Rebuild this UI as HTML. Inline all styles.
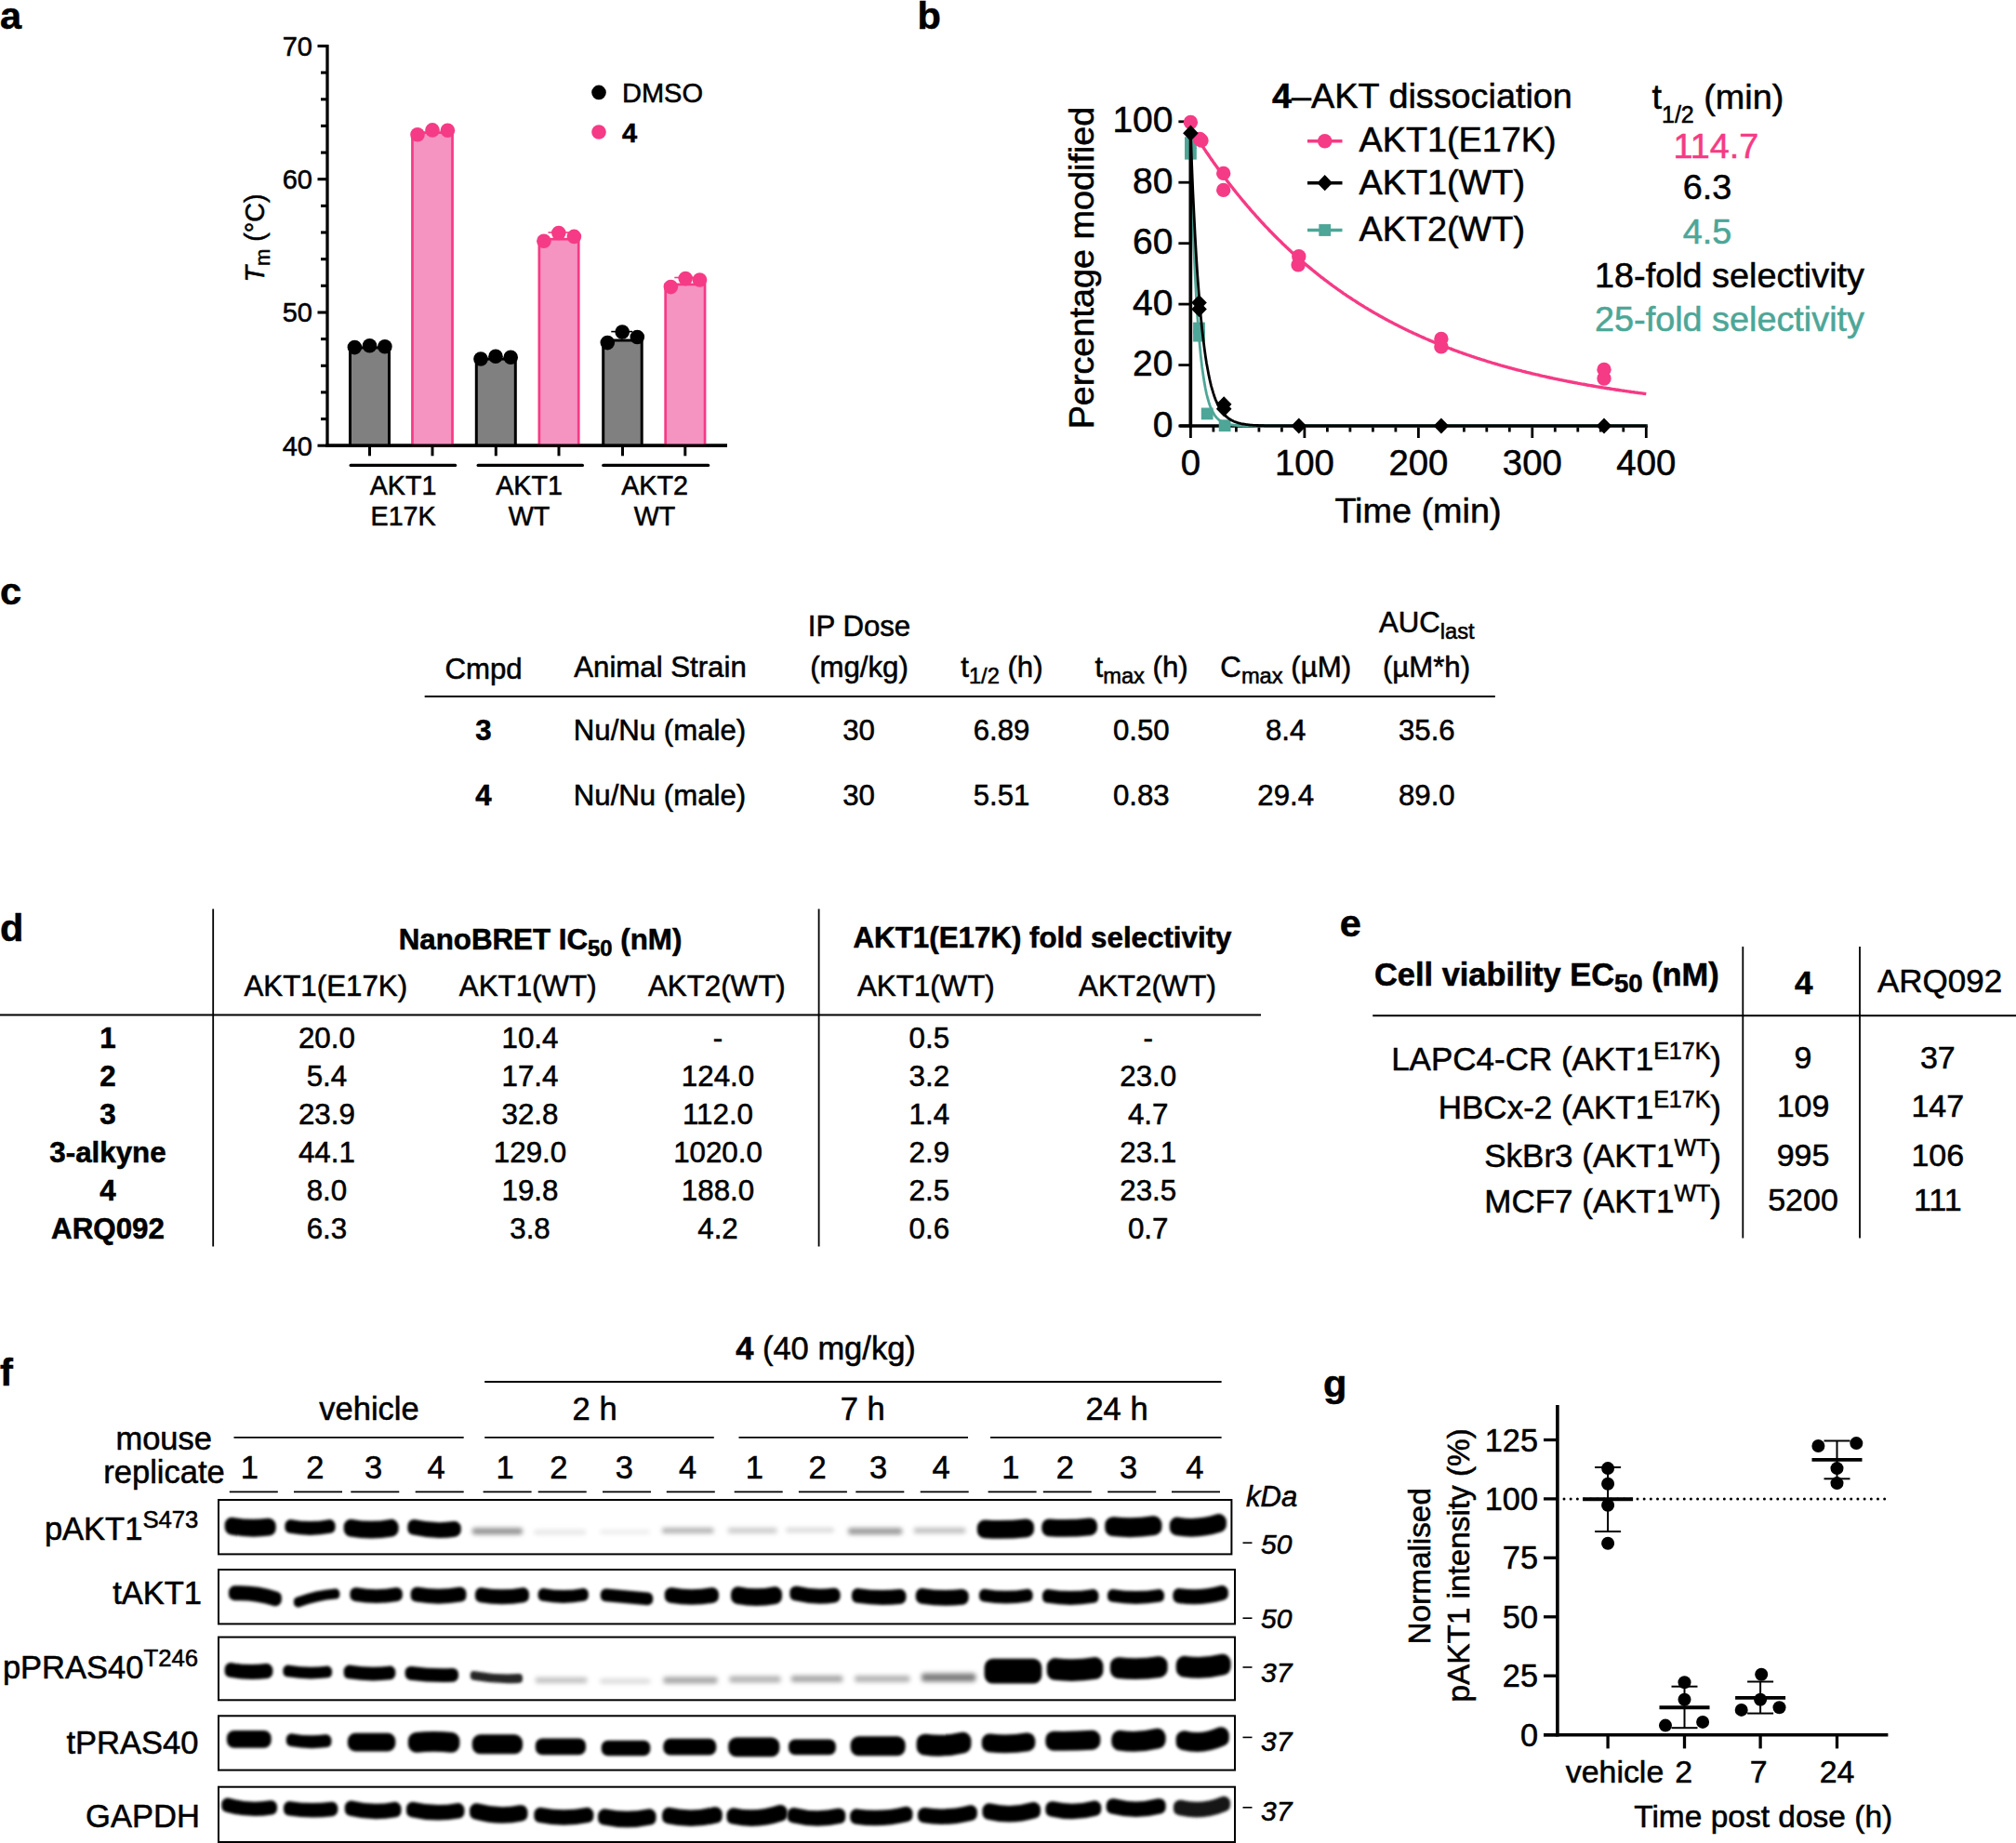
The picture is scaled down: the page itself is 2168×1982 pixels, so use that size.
<!DOCTYPE html>
<html><head><meta charset="utf-8"><title>Figure</title>
<style>html,body{margin:0;padding:0;background:#fff}svg{display:block}text{font-family:"Liberation Sans",sans-serif}</style>
</head><body>
<svg width="2168" height="1982" viewBox="0 0 2168 1982">
<rect width="2168" height="1982" fill="#fff"/>
<text x="0.0" y="31.0" font-size="41.5" text-anchor="start" font-weight="bold" font-style="normal" fill="#000"  stroke="#000" stroke-width="0.55">a</text>
<text x="986.5" y="31.0" font-size="41.5" text-anchor="start" font-weight="bold" font-style="normal" fill="#000"  stroke="#000" stroke-width="0.55">b</text>
<text x="0.0" y="650.0" font-size="41.5" text-anchor="start" font-weight="bold" font-style="normal" fill="#000"  stroke="#000" stroke-width="0.55">c</text>
<text x="0.0" y="1012.0" font-size="41.5" text-anchor="start" font-weight="bold" font-style="normal" fill="#000"  stroke="#000" stroke-width="0.55">d</text>
<text x="1440.8" y="1006.5" font-size="41.5" text-anchor="start" font-weight="bold" font-style="normal" fill="#000"  stroke="#000" stroke-width="0.55">e</text>
<text x="0.0" y="1490.0" font-size="41.5" text-anchor="start" font-weight="bold" font-style="normal" fill="#000"  stroke="#000" stroke-width="0.55">f</text>
<text x="1423.0" y="1501.5" font-size="41.5" text-anchor="start" font-weight="bold" font-style="normal" fill="#000"  stroke="#000" stroke-width="0.55">g</text>
<line x1="352.0" y1="48.0" x2="352.0" y2="480.8" stroke="#000" stroke-width="3.3" stroke-linecap="butt" />
<line x1="350.4" y1="479.2" x2="782.0" y2="479.2" stroke="#000" stroke-width="3.3" stroke-linecap="butt" />
<line x1="341.5" y1="479.2" x2="352.0" y2="479.2" stroke="#000" stroke-width="3.1" stroke-linecap="butt" />
<line x1="345.0" y1="450.6" x2="352.0" y2="450.6" stroke="#000" stroke-width="3.1" stroke-linecap="butt" />
<line x1="345.0" y1="421.9" x2="352.0" y2="421.9" stroke="#000" stroke-width="3.1" stroke-linecap="butt" />
<line x1="345.0" y1="393.3" x2="352.0" y2="393.3" stroke="#000" stroke-width="3.1" stroke-linecap="butt" />
<line x1="345.0" y1="364.6" x2="352.0" y2="364.6" stroke="#000" stroke-width="3.1" stroke-linecap="butt" />
<line x1="341.5" y1="336.0" x2="352.0" y2="336.0" stroke="#000" stroke-width="3.1" stroke-linecap="butt" />
<line x1="345.0" y1="307.3" x2="352.0" y2="307.3" stroke="#000" stroke-width="3.1" stroke-linecap="butt" />
<line x1="345.0" y1="278.7" x2="352.0" y2="278.7" stroke="#000" stroke-width="3.1" stroke-linecap="butt" />
<line x1="345.0" y1="250.0" x2="352.0" y2="250.0" stroke="#000" stroke-width="3.1" stroke-linecap="butt" />
<line x1="345.0" y1="221.4" x2="352.0" y2="221.4" stroke="#000" stroke-width="3.1" stroke-linecap="butt" />
<line x1="341.5" y1="192.7" x2="352.0" y2="192.7" stroke="#000" stroke-width="3.1" stroke-linecap="butt" />
<line x1="345.0" y1="164.1" x2="352.0" y2="164.1" stroke="#000" stroke-width="3.1" stroke-linecap="butt" />
<line x1="345.0" y1="135.4" x2="352.0" y2="135.4" stroke="#000" stroke-width="3.1" stroke-linecap="butt" />
<line x1="345.0" y1="106.8" x2="352.0" y2="106.8" stroke="#000" stroke-width="3.1" stroke-linecap="butt" />
<line x1="345.0" y1="78.1" x2="352.0" y2="78.1" stroke="#000" stroke-width="3.1" stroke-linecap="butt" />
<line x1="341.5" y1="49.5" x2="352.0" y2="49.5" stroke="#000" stroke-width="3.1" stroke-linecap="butt" />
<text x="336.0" y="489.5" font-size="29" text-anchor="end" font-weight="normal" font-style="normal" fill="#000"  stroke="#000" stroke-width="0.55">40</text>
<text x="336.0" y="346.3" font-size="29" text-anchor="end" font-weight="normal" font-style="normal" fill="#000"  stroke="#000" stroke-width="0.55">50</text>
<text x="336.0" y="203.0" font-size="29" text-anchor="end" font-weight="normal" font-style="normal" fill="#000"  stroke="#000" stroke-width="0.55">60</text>
<text x="336.0" y="59.8" font-size="29" text-anchor="end" font-weight="normal" font-style="normal" fill="#000"  stroke="#000" stroke-width="0.55">70</text>
<rect x="376.50" y="373.9" width="42.00" height="105.3" fill="#808080" stroke="#000" stroke-width="3"/>
<line x1="397.5" y1="479.2" x2="397.5" y2="490.3" stroke="#000" stroke-width="3" stroke-linecap="butt" />
<rect x="443.45" y="142.6" width="43.10" height="336.6" fill="#F593C1" stroke="#F53B85" stroke-width="2.7"/>
<line x1="465.0" y1="479.2" x2="465.0" y2="490.3" stroke="#000" stroke-width="3" stroke-linecap="butt" />
<rect x="512.30" y="386.1" width="42.00" height="93.1" fill="#808080" stroke="#000" stroke-width="3"/>
<line x1="533.3" y1="479.2" x2="533.3" y2="490.3" stroke="#000" stroke-width="3" stroke-linecap="butt" />
<rect x="579.85" y="257.2" width="42.40" height="222.0" fill="#F593C1" stroke="#F53B85" stroke-width="2.7"/>
<line x1="601.0" y1="479.2" x2="601.0" y2="490.3" stroke="#000" stroke-width="3" stroke-linecap="butt" />
<rect x="648.70" y="366.0" width="41.50" height="113.2" fill="#808080" stroke="#000" stroke-width="3"/>
<line x1="669.5" y1="479.2" x2="669.5" y2="490.3" stroke="#000" stroke-width="3" stroke-linecap="butt" />
<rect x="715.65" y="305.9" width="42.40" height="173.3" fill="#F593C1" stroke="#F53B85" stroke-width="2.7"/>
<line x1="736.8" y1="479.2" x2="736.8" y2="490.3" stroke="#000" stroke-width="3" stroke-linecap="butt" />
<line x1="589.5" y1="250.0" x2="612.0" y2="250.0" stroke="#F53B85" stroke-width="1.6" stroke-linecap="butt" />
<line x1="600.8" y1="250.0" x2="600.8" y2="258.0" stroke="#F53B85" stroke-width="1.6" stroke-linecap="butt" />
<line x1="725.3" y1="298.5" x2="748.0" y2="298.5" stroke="#F53B85" stroke-width="1.6" stroke-linecap="butt" />
<line x1="736.6" y1="298.5" x2="736.6" y2="306.5" stroke="#F53B85" stroke-width="1.6" stroke-linecap="butt" />
<line x1="657.3" y1="356.6" x2="680.0" y2="356.6" stroke="#000" stroke-width="1.6" stroke-linecap="butt" />
<line x1="668.6" y1="356.6" x2="668.6" y2="364.6" stroke="#000" stroke-width="1.6" stroke-linecap="butt" />
<circle cx="381.4" cy="373.6" r="7.8" fill="#000"/>
<circle cx="397.5" cy="371.7" r="7.8" fill="#000"/>
<circle cx="413.9" cy="372.8" r="7.8" fill="#000"/>
<circle cx="449.0" cy="144.8" r="7.8" fill="#F53B85"/>
<circle cx="465.0" cy="139.9" r="7.8" fill="#F53B85"/>
<circle cx="481.4" cy="140.3" r="7.8" fill="#F53B85"/>
<circle cx="517.0" cy="386.0" r="7.8" fill="#000"/>
<circle cx="533.0" cy="383.3" r="7.8" fill="#000"/>
<circle cx="549.2" cy="384.2" r="7.8" fill="#000"/>
<circle cx="584.9" cy="259.3" r="7.8" fill="#F53B85"/>
<circle cx="600.8" cy="250.5" r="7.8" fill="#F53B85"/>
<circle cx="617.4" cy="254.4" r="7.8" fill="#F53B85"/>
<circle cx="653.3" cy="368.6" r="7.8" fill="#000"/>
<circle cx="669.2" cy="357.0" r="7.8" fill="#000"/>
<circle cx="685.3" cy="362.5" r="7.8" fill="#000"/>
<circle cx="721.4" cy="308.6" r="7.8" fill="#F53B85"/>
<circle cx="737.2" cy="299.6" r="7.8" fill="#F53B85"/>
<circle cx="752.5" cy="301.0" r="7.8" fill="#F53B85"/>
<line x1="350.4" y1="479.2" x2="782.0" y2="479.2" stroke="#000" stroke-width="3.3" stroke-linecap="butt" />
<line x1="377.2" y1="500.4" x2="489.6" y2="500.4" stroke="#000" stroke-width="3.3" stroke-linecap="round" />
<line x1="514.2" y1="500.4" x2="626.4" y2="500.4" stroke="#000" stroke-width="3.3" stroke-linecap="round" />
<line x1="648.8" y1="500.4" x2="761.6" y2="500.4" stroke="#000" stroke-width="3.3" stroke-linecap="round" />
<text x="433.6" y="532.0" font-size="28.7" text-anchor="middle" font-weight="normal" font-style="normal" fill="#000"  stroke="#000" stroke-width="0.55">AKT1</text>
<text x="433.6" y="565.3" font-size="28.7" text-anchor="middle" font-weight="normal" font-style="normal" fill="#000"  stroke="#000" stroke-width="0.55">E17K</text>
<text x="569.0" y="532.0" font-size="28.7" text-anchor="middle" font-weight="normal" font-style="normal" fill="#000"  stroke="#000" stroke-width="0.55">AKT1</text>
<text x="569.0" y="565.3" font-size="28.7" text-anchor="middle" font-weight="normal" font-style="normal" fill="#000"  stroke="#000" stroke-width="0.55">WT</text>
<text x="704.0" y="532.0" font-size="28.7" text-anchor="middle" font-weight="normal" font-style="normal" fill="#000"  stroke="#000" stroke-width="0.55">AKT2</text>
<text x="704.0" y="565.3" font-size="28.7" text-anchor="middle" font-weight="normal" font-style="normal" fill="#000"  stroke="#000" stroke-width="0.55">WT</text>
<text transform="translate(284,256) rotate(-90)" font-size="28.7" text-anchor="middle" stroke="#000" stroke-width="0.55"><tspan font-style="italic">T</tspan><tspan font-size="22" dy="6">m</tspan><tspan dy="-6"> (°C)</tspan></text>
<circle cx="644.0" cy="99.4" r="7.8" fill="#000"/>
<text x="669.0" y="109.5" font-size="29" text-anchor="start" font-weight="normal" font-style="normal" fill="#000"  stroke="#000" stroke-width="0.55">DMSO</text>
<circle cx="644.0" cy="142.0" r="7.8" fill="#F53B85"/>
<text x="669.0" y="152.5" font-size="29" text-anchor="start" font-weight="bold" font-style="normal" fill="#000"  stroke="#000" stroke-width="0.55">4</text>
<line x1="1280.4" y1="129.4" x2="1280.4" y2="459.5" stroke="#000" stroke-width="3.4" stroke-linecap="butt" />
<line x1="1268.4" y1="458.0" x2="1771.8" y2="458.0" stroke="#000" stroke-width="3.4" stroke-linecap="butt" />
<line x1="1267.4" y1="458.0" x2="1280.4" y2="458.0" stroke="#000" stroke-width="2.8" stroke-linecap="butt" />
<text x="1261.5" y="469.5" font-size="39" text-anchor="end" font-weight="normal" font-style="normal" fill="#000"  stroke="#000" stroke-width="0.55">0</text>
<line x1="1267.4" y1="392.6" x2="1280.4" y2="392.6" stroke="#000" stroke-width="2.8" stroke-linecap="butt" />
<text x="1261.5" y="404.1" font-size="39" text-anchor="end" font-weight="normal" font-style="normal" fill="#000"  stroke="#000" stroke-width="0.55">20</text>
<line x1="1267.4" y1="327.1" x2="1280.4" y2="327.1" stroke="#000" stroke-width="2.8" stroke-linecap="butt" />
<text x="1261.5" y="338.6" font-size="39" text-anchor="end" font-weight="normal" font-style="normal" fill="#000"  stroke="#000" stroke-width="0.55">40</text>
<line x1="1267.4" y1="261.7" x2="1280.4" y2="261.7" stroke="#000" stroke-width="2.8" stroke-linecap="butt" />
<text x="1261.5" y="273.2" font-size="39" text-anchor="end" font-weight="normal" font-style="normal" fill="#000"  stroke="#000" stroke-width="0.55">60</text>
<line x1="1267.4" y1="196.2" x2="1280.4" y2="196.2" stroke="#000" stroke-width="2.8" stroke-linecap="butt" />
<text x="1261.5" y="207.7" font-size="39" text-anchor="end" font-weight="normal" font-style="normal" fill="#000"  stroke="#000" stroke-width="0.55">80</text>
<line x1="1267.4" y1="130.8" x2="1280.4" y2="130.8" stroke="#000" stroke-width="2.8" stroke-linecap="butt" />
<text x="1261.5" y="142.3" font-size="39" text-anchor="end" font-weight="normal" font-style="normal" fill="#000"  stroke="#000" stroke-width="0.55">100</text>
<line x1="1280.4" y1="458.0" x2="1280.4" y2="471.0" stroke="#000" stroke-width="2.8" stroke-linecap="butt" />
<line x1="1304.9" y1="458.0" x2="1304.9" y2="464.5" stroke="#000" stroke-width="2.8" stroke-linecap="butt" />
<line x1="1329.4" y1="458.0" x2="1329.4" y2="464.5" stroke="#000" stroke-width="2.8" stroke-linecap="butt" />
<line x1="1353.9" y1="458.0" x2="1353.9" y2="464.5" stroke="#000" stroke-width="2.8" stroke-linecap="butt" />
<line x1="1378.4" y1="458.0" x2="1378.4" y2="464.5" stroke="#000" stroke-width="2.8" stroke-linecap="butt" />
<line x1="1402.9" y1="458.0" x2="1402.9" y2="471.0" stroke="#000" stroke-width="2.8" stroke-linecap="butt" />
<line x1="1427.4" y1="458.0" x2="1427.4" y2="464.5" stroke="#000" stroke-width="2.8" stroke-linecap="butt" />
<line x1="1451.9" y1="458.0" x2="1451.9" y2="464.5" stroke="#000" stroke-width="2.8" stroke-linecap="butt" />
<line x1="1476.4" y1="458.0" x2="1476.4" y2="464.5" stroke="#000" stroke-width="2.8" stroke-linecap="butt" />
<line x1="1500.9" y1="458.0" x2="1500.9" y2="464.5" stroke="#000" stroke-width="2.8" stroke-linecap="butt" />
<line x1="1525.4" y1="458.0" x2="1525.4" y2="471.0" stroke="#000" stroke-width="2.8" stroke-linecap="butt" />
<line x1="1549.9" y1="458.0" x2="1549.9" y2="464.5" stroke="#000" stroke-width="2.8" stroke-linecap="butt" />
<line x1="1574.4" y1="458.0" x2="1574.4" y2="464.5" stroke="#000" stroke-width="2.8" stroke-linecap="butt" />
<line x1="1598.8" y1="458.0" x2="1598.8" y2="464.5" stroke="#000" stroke-width="2.8" stroke-linecap="butt" />
<line x1="1623.3" y1="458.0" x2="1623.3" y2="464.5" stroke="#000" stroke-width="2.8" stroke-linecap="butt" />
<line x1="1647.8" y1="458.0" x2="1647.8" y2="471.0" stroke="#000" stroke-width="2.8" stroke-linecap="butt" />
<line x1="1672.3" y1="458.0" x2="1672.3" y2="464.5" stroke="#000" stroke-width="2.8" stroke-linecap="butt" />
<line x1="1696.8" y1="458.0" x2="1696.8" y2="464.5" stroke="#000" stroke-width="2.8" stroke-linecap="butt" />
<line x1="1721.3" y1="458.0" x2="1721.3" y2="464.5" stroke="#000" stroke-width="2.8" stroke-linecap="butt" />
<line x1="1745.8" y1="458.0" x2="1745.8" y2="464.5" stroke="#000" stroke-width="2.8" stroke-linecap="butt" />
<line x1="1770.3" y1="458.0" x2="1770.3" y2="471.0" stroke="#000" stroke-width="2.8" stroke-linecap="butt" />
<text x="1280.4" y="510.5" font-size="38.3" text-anchor="middle" font-weight="normal" font-style="normal" fill="#000"  stroke="#000" stroke-width="0.55">0</text>
<text x="1402.9" y="510.5" font-size="38.3" text-anchor="middle" font-weight="normal" font-style="normal" fill="#000"  stroke="#000" stroke-width="0.55">100</text>
<text x="1525.4" y="510.5" font-size="38.3" text-anchor="middle" font-weight="normal" font-style="normal" fill="#000"  stroke="#000" stroke-width="0.55">200</text>
<text x="1647.8" y="510.5" font-size="38.3" text-anchor="middle" font-weight="normal" font-style="normal" fill="#000"  stroke="#000" stroke-width="0.55">300</text>
<text x="1770.3" y="510.5" font-size="38.3" text-anchor="middle" font-weight="normal" font-style="normal" fill="#000"  stroke="#000" stroke-width="0.55">400</text>
<text x="1525.0" y="562.0" font-size="37.8" text-anchor="middle" font-weight="normal" font-style="normal" fill="#000"  stroke="#000" stroke-width="0.55">Time (min)</text>
<text transform="translate(1176,288) rotate(-90)" font-size="37.8" text-anchor="middle" stroke="#000" stroke-width="0.55">Percentage modified</text>
<polyline points="1280.4,160.2 1281.6,202.8 1282.8,239.2 1284.1,270.4 1285.3,297.2 1286.5,320.2 1287.7,339.8 1289.0,356.7 1290.2,371.2 1291.4,383.6 1292.6,394.2 1293.9,403.3 1295.1,411.1 1296.3,417.8 1297.5,423.5 1298.8,428.5 1300.0,432.7 1301.2,436.3 1302.4,439.4 1303.7,442.0 1304.9,444.3 1306.1,446.3 1307.3,448.0 1308.6,449.4 1309.8,450.6 1311.0,451.7 1312.2,452.6 1313.5,453.3 1314.7,454.0 1315.9,454.6 1317.1,455.1 1318.4,455.5 1319.6,455.8 1320.8,456.2 1322.0,456.4 1323.3,456.6 1324.5,456.8 1325.7,457.0 1326.9,457.1 1328.2,457.3 1329.4,457.4 1330.6,457.5 1331.8,457.5 1333.1,457.6 1334.3,457.7 1335.5,457.7 1336.7,457.8 1338.0,457.8 1339.2,457.8 1340.4,457.8 1341.6,457.9 1342.9,457.9 1344.1,457.9 1345.3,457.9 1346.5,457.9 1347.8,457.9 1349.0,457.9 1350.2,458.0 1351.4,458.0 1352.7,458.0 1353.9,458.0 1355.1,458.0 1356.3,458.0 1357.6,458.0 1358.8,458.0 1360.0,458.0 1361.2,458.0 1362.5,458.0 1363.7,458.0 1364.9,458.0 1366.1,458.0 1367.4,458.0 1368.6,458.0 1369.8,458.0 1371.0,458.0 1372.3,458.0 1373.5,458.0 1374.7,458.0 1375.9,458.0 1377.2,458.0 1378.4,458.0 1379.6,458.0 1380.8,458.0 1382.1,458.0 1383.3,458.0 1384.5,458.0 1385.7,458.0 1387.0,458.0 1388.2,458.0 1389.4,458.0 1390.6,458.0 1391.9,458.0 1393.1,458.0 1394.3,458.0 1395.5,458.0 1396.8,458.0 1398.0,458.0 1399.2,458.0 1400.4,458.0 1401.7,458.0 1402.9,458.0 1404.1,458.0 1405.3,458.0 1406.6,458.0 1407.8,458.0 1409.0,458.0 1410.2,458.0 1411.5,458.0 1412.7,458.0 1413.9,458.0 1415.1,458.0 1416.4,458.0 1417.6,458.0 1418.8,458.0 1420.0,458.0 1421.3,458.0 1422.5,458.0 1423.7,458.0 1424.9,458.0 1426.2,458.0 1427.4,458.0 1428.6,458.0 1429.8,458.0 1431.1,458.0 1432.3,458.0 1433.5,458.0 1434.7,458.0 1435.9,458.0 1437.2,458.0 1438.4,458.0 1439.6,458.0 1440.8,458.0 1442.1,458.0 1443.3,458.0 1444.5,458.0 1445.7,458.0 1447.0,458.0 1448.2,458.0 1449.4,458.0 1450.6,458.0 1451.9,458.0 1453.1,458.0 1454.3,458.0 1455.5,458.0 1456.8,458.0 1458.0,458.0 1459.2,458.0 1460.4,458.0 1461.7,458.0 1462.9,458.0 1464.1,458.0 1465.3,458.0 1466.6,458.0 1467.8,458.0 1469.0,458.0 1470.2,458.0 1471.5,458.0 1472.7,458.0 1473.9,458.0 1475.1,458.0 1476.4,458.0 1477.6,458.0 1478.8,458.0 1480.0,458.0 1481.3,458.0 1482.5,458.0 1483.7,458.0 1484.9,458.0 1486.2,458.0 1487.4,458.0 1488.6,458.0 1489.8,458.0 1491.1,458.0 1492.3,458.0 1493.5,458.0 1494.7,458.0 1496.0,458.0 1497.2,458.0 1498.4,458.0 1499.6,458.0 1500.9,458.0 1502.1,458.0 1503.3,458.0 1504.5,458.0 1505.8,458.0 1507.0,458.0 1508.2,458.0 1509.4,458.0 1510.7,458.0 1511.9,458.0 1513.1,458.0 1514.3,458.0 1515.6,458.0 1516.8,458.0 1518.0,458.0 1519.2,458.0 1520.5,458.0 1521.7,458.0 1522.9,458.0 1524.1,458.0 1525.4,458.0 1526.6,458.0 1527.8,458.0 1529.0,458.0 1530.3,458.0 1531.5,458.0 1532.7,458.0 1533.9,458.0 1535.2,458.0 1536.4,458.0 1537.6,458.0 1538.8,458.0 1540.1,458.0 1541.3,458.0 1542.5,458.0 1543.7,458.0 1545.0,458.0 1546.2,458.0 1547.4,458.0 1548.6,458.0 1549.9,458.0 1551.1,458.0 1552.3,458.0 1553.5,458.0 1554.8,458.0 1556.0,458.0 1557.2,458.0 1558.4,458.0 1559.7,458.0 1560.9,458.0 1562.1,458.0 1563.3,458.0 1564.6,458.0 1565.8,458.0 1567.0,458.0 1568.2,458.0 1569.5,458.0 1570.7,458.0 1571.9,458.0 1573.1,458.0 1574.4,458.0 1575.6,458.0 1576.8,458.0 1578.0,458.0 1579.3,458.0 1580.5,458.0 1581.7,458.0 1582.9,458.0 1584.2,458.0 1585.4,458.0 1586.6,458.0 1587.8,458.0 1589.0,458.0 1590.3,458.0 1591.5,458.0 1592.7,458.0 1593.9,458.0 1595.2,458.0 1596.4,458.0 1597.6,458.0 1598.8,458.0 1600.1,458.0 1601.3,458.0 1602.5,458.0 1603.7,458.0 1605.0,458.0 1606.2,458.0 1607.4,458.0 1608.6,458.0 1609.9,458.0 1611.1,458.0 1612.3,458.0 1613.5,458.0 1614.8,458.0 1616.0,458.0 1617.2,458.0 1618.4,458.0 1619.7,458.0 1620.9,458.0 1622.1,458.0 1623.3,458.0 1624.6,458.0 1625.8,458.0 1627.0,458.0 1628.2,458.0 1629.5,458.0 1630.7,458.0 1631.9,458.0 1633.1,458.0 1634.4,458.0 1635.6,458.0 1636.8,458.0 1638.0,458.0 1639.3,458.0 1640.5,458.0 1641.7,458.0 1642.9,458.0 1644.2,458.0 1645.4,458.0 1646.6,458.0 1647.8,458.0 1649.1,458.0 1650.3,458.0 1651.5,458.0 1652.7,458.0 1654.0,458.0 1655.2,458.0 1656.4,458.0 1657.6,458.0 1658.9,458.0 1660.1,458.0 1661.3,458.0 1662.5,458.0 1663.8,458.0 1665.0,458.0 1666.2,458.0 1667.4,458.0 1668.7,458.0 1669.9,458.0 1671.1,458.0 1672.3,458.0 1673.6,458.0 1674.8,458.0 1676.0,458.0 1677.2,458.0 1678.5,458.0 1679.7,458.0 1680.9,458.0 1682.1,458.0 1683.4,458.0 1684.6,458.0 1685.8,458.0 1687.0,458.0 1688.3,458.0 1689.5,458.0 1690.7,458.0 1691.9,458.0 1693.2,458.0 1694.4,458.0 1695.6,458.0 1696.8,458.0 1698.1,458.0 1699.3,458.0 1700.5,458.0 1701.7,458.0 1703.0,458.0 1704.2,458.0 1705.4,458.0 1706.6,458.0 1707.9,458.0 1709.1,458.0 1710.3,458.0 1711.5,458.0 1712.8,458.0 1714.0,458.0 1715.2,458.0 1716.4,458.0 1717.7,458.0 1718.9,458.0 1720.1,458.0 1721.3,458.0 1722.6,458.0 1723.8,458.0 1725.0,458.0 1726.2,458.0 1727.5,458.0 1728.7,458.0 1729.9,458.0 1731.1,458.0 1732.4,458.0 1733.6,458.0 1734.8,458.0 1736.0,458.0 1737.3,458.0 1738.5,458.0 1739.7,458.0 1740.9,458.0 1742.1,458.0 1743.4,458.0 1744.6,458.0 1745.8,458.0 1747.0,458.0 1748.3,458.0 1749.5,458.0 1750.7,458.0 1751.9,458.0 1753.2,458.0 1754.4,458.0 1755.6,458.0 1756.8,458.0 1758.1,458.0 1759.3,458.0 1760.5,458.0 1761.7,458.0 1763.0,458.0 1764.2,458.0 1765.4,458.0 1766.6,458.0 1767.9,458.0 1769.1,458.0 1770.3,458.0" fill="none" stroke="#4DA697" stroke-width="2.8" stroke-linejoin="round"/>
<rect x="1274.0" y="147.3" width="12.8" height="12.8" fill="#4DA697"/>
<rect x="1274.0" y="158.8" width="12.8" height="12.8" fill="#4DA697"/>
<rect x="1283.1" y="346.6" width="12.8" height="12.8" fill="#4DA697"/>
<rect x="1283.1" y="354.7" width="12.8" height="12.8" fill="#4DA697"/>
<rect x="1291.8" y="438.5" width="12.8" height="12.8" fill="#4DA697"/>
<rect x="1310.7" y="451.3" width="12.8" height="12.8" fill="#4DA697"/>
<line x1="1280.4" y1="129.4" x2="1280.4" y2="459.5" stroke="#000" stroke-width="3.4" stroke-linecap="butt" />
<polyline points="1280.4,143.2 1281.6,176.0 1282.8,205.4 1284.1,231.7 1285.3,255.3 1286.5,276.4 1287.7,295.3 1289.0,312.3 1290.2,327.5 1291.4,341.1 1292.6,353.2 1293.9,364.2 1295.1,373.9 1296.3,382.7 1297.5,390.5 1298.8,397.6 1300.0,403.9 1301.2,409.5 1302.4,414.6 1303.7,419.1 1304.9,423.1 1306.1,426.8 1307.3,430.0 1308.6,432.9 1309.8,435.6 1311.0,437.9 1312.2,440.0 1313.5,441.9 1314.7,443.5 1315.9,445.0 1317.1,446.4 1318.4,447.6 1319.6,448.7 1320.8,449.7 1322.0,450.5 1323.3,451.3 1324.5,452.0 1325.7,452.6 1326.9,453.2 1328.2,453.7 1329.4,454.1 1330.6,454.5 1331.8,454.9 1333.1,455.2 1334.3,455.5 1335.5,455.8 1336.7,456.0 1338.0,456.2 1339.2,456.4 1340.4,456.6 1341.6,456.7 1342.9,456.8 1344.1,457.0 1345.3,457.1 1346.5,457.2 1347.8,457.3 1349.0,457.3 1350.2,457.4 1351.4,457.5 1352.7,457.5 1353.9,457.6 1355.1,457.6 1356.3,457.7 1357.6,457.7 1358.8,457.7 1360.0,457.8 1361.2,457.8 1362.5,457.8 1363.7,457.8 1364.9,457.8 1366.1,457.9 1367.4,457.9 1368.6,457.9 1369.8,457.9 1371.0,457.9 1372.3,457.9 1373.5,457.9 1374.7,457.9 1375.9,457.9 1377.2,457.9 1378.4,458.0 1379.6,458.0 1380.8,458.0 1382.1,458.0 1383.3,458.0 1384.5,458.0 1385.7,458.0 1387.0,458.0 1388.2,458.0 1389.4,458.0 1390.6,458.0 1391.9,458.0 1393.1,458.0 1394.3,458.0 1395.5,458.0 1396.8,458.0 1398.0,458.0 1399.2,458.0 1400.4,458.0 1401.7,458.0 1402.9,458.0 1404.1,458.0 1405.3,458.0 1406.6,458.0 1407.8,458.0 1409.0,458.0 1410.2,458.0 1411.5,458.0 1412.7,458.0 1413.9,458.0 1415.1,458.0 1416.4,458.0 1417.6,458.0 1418.8,458.0 1420.0,458.0 1421.3,458.0 1422.5,458.0 1423.7,458.0 1424.9,458.0 1426.2,458.0 1427.4,458.0 1428.6,458.0 1429.8,458.0 1431.1,458.0 1432.3,458.0 1433.5,458.0 1434.7,458.0 1435.9,458.0 1437.2,458.0 1438.4,458.0 1439.6,458.0 1440.8,458.0 1442.1,458.0 1443.3,458.0 1444.5,458.0 1445.7,458.0 1447.0,458.0 1448.2,458.0 1449.4,458.0 1450.6,458.0 1451.9,458.0 1453.1,458.0 1454.3,458.0 1455.5,458.0 1456.8,458.0 1458.0,458.0 1459.2,458.0 1460.4,458.0 1461.7,458.0 1462.9,458.0 1464.1,458.0 1465.3,458.0 1466.6,458.0 1467.8,458.0 1469.0,458.0 1470.2,458.0 1471.5,458.0 1472.7,458.0 1473.9,458.0 1475.1,458.0 1476.4,458.0 1477.6,458.0 1478.8,458.0 1480.0,458.0 1481.3,458.0 1482.5,458.0 1483.7,458.0 1484.9,458.0 1486.2,458.0 1487.4,458.0 1488.6,458.0 1489.8,458.0 1491.1,458.0 1492.3,458.0 1493.5,458.0 1494.7,458.0 1496.0,458.0 1497.2,458.0 1498.4,458.0 1499.6,458.0 1500.9,458.0 1502.1,458.0 1503.3,458.0 1504.5,458.0 1505.8,458.0 1507.0,458.0 1508.2,458.0 1509.4,458.0 1510.7,458.0 1511.9,458.0 1513.1,458.0 1514.3,458.0 1515.6,458.0 1516.8,458.0 1518.0,458.0 1519.2,458.0 1520.5,458.0 1521.7,458.0 1522.9,458.0 1524.1,458.0 1525.4,458.0 1526.6,458.0 1527.8,458.0 1529.0,458.0 1530.3,458.0 1531.5,458.0 1532.7,458.0 1533.9,458.0 1535.2,458.0 1536.4,458.0 1537.6,458.0 1538.8,458.0 1540.1,458.0 1541.3,458.0 1542.5,458.0 1543.7,458.0 1545.0,458.0 1546.2,458.0 1547.4,458.0 1548.6,458.0 1549.9,458.0 1551.1,458.0 1552.3,458.0 1553.5,458.0 1554.8,458.0 1556.0,458.0 1557.2,458.0 1558.4,458.0 1559.7,458.0 1560.9,458.0 1562.1,458.0 1563.3,458.0 1564.6,458.0 1565.8,458.0 1567.0,458.0 1568.2,458.0 1569.5,458.0 1570.7,458.0 1571.9,458.0 1573.1,458.0 1574.4,458.0 1575.6,458.0 1576.8,458.0 1578.0,458.0 1579.3,458.0 1580.5,458.0 1581.7,458.0 1582.9,458.0 1584.2,458.0 1585.4,458.0 1586.6,458.0 1587.8,458.0 1589.0,458.0 1590.3,458.0 1591.5,458.0 1592.7,458.0 1593.9,458.0 1595.2,458.0 1596.4,458.0 1597.6,458.0 1598.8,458.0 1600.1,458.0 1601.3,458.0 1602.5,458.0 1603.7,458.0 1605.0,458.0 1606.2,458.0 1607.4,458.0 1608.6,458.0 1609.9,458.0 1611.1,458.0 1612.3,458.0 1613.5,458.0 1614.8,458.0 1616.0,458.0 1617.2,458.0 1618.4,458.0 1619.7,458.0 1620.9,458.0 1622.1,458.0 1623.3,458.0 1624.6,458.0 1625.8,458.0 1627.0,458.0 1628.2,458.0 1629.5,458.0 1630.7,458.0 1631.9,458.0 1633.1,458.0 1634.4,458.0 1635.6,458.0 1636.8,458.0 1638.0,458.0 1639.3,458.0 1640.5,458.0 1641.7,458.0 1642.9,458.0 1644.2,458.0 1645.4,458.0 1646.6,458.0 1647.8,458.0 1649.1,458.0 1650.3,458.0 1651.5,458.0 1652.7,458.0 1654.0,458.0 1655.2,458.0 1656.4,458.0 1657.6,458.0 1658.9,458.0 1660.1,458.0 1661.3,458.0 1662.5,458.0 1663.8,458.0 1665.0,458.0 1666.2,458.0 1667.4,458.0 1668.7,458.0 1669.9,458.0 1671.1,458.0 1672.3,458.0 1673.6,458.0 1674.8,458.0 1676.0,458.0 1677.2,458.0 1678.5,458.0 1679.7,458.0 1680.9,458.0 1682.1,458.0 1683.4,458.0 1684.6,458.0 1685.8,458.0 1687.0,458.0 1688.3,458.0 1689.5,458.0 1690.7,458.0 1691.9,458.0 1693.2,458.0 1694.4,458.0 1695.6,458.0 1696.8,458.0 1698.1,458.0 1699.3,458.0 1700.5,458.0 1701.7,458.0 1703.0,458.0 1704.2,458.0 1705.4,458.0 1706.6,458.0 1707.9,458.0 1709.1,458.0 1710.3,458.0 1711.5,458.0 1712.8,458.0 1714.0,458.0 1715.2,458.0 1716.4,458.0 1717.7,458.0 1718.9,458.0 1720.1,458.0 1721.3,458.0 1722.6,458.0 1723.8,458.0 1725.0,458.0 1726.2,458.0 1727.5,458.0 1728.7,458.0 1729.9,458.0 1731.1,458.0 1732.4,458.0 1733.6,458.0 1734.8,458.0 1736.0,458.0 1737.3,458.0 1738.5,458.0 1739.7,458.0 1740.9,458.0 1742.1,458.0 1743.4,458.0 1744.6,458.0 1745.8,458.0 1747.0,458.0 1748.3,458.0 1749.5,458.0 1750.7,458.0 1751.9,458.0 1753.2,458.0 1754.4,458.0 1755.6,458.0 1756.8,458.0 1758.1,458.0 1759.3,458.0 1760.5,458.0 1761.7,458.0 1763.0,458.0 1764.2,458.0 1765.4,458.0 1766.6,458.0 1767.9,458.0 1769.1,458.0 1770.3,458.0" fill="none" stroke="#000" stroke-width="2.8" stroke-linejoin="round"/>
<polyline points="1280.4,137.3 1281.6,139.3 1282.8,141.3 1284.1,143.2 1285.3,145.1 1286.5,147.0 1287.7,148.9 1289.0,150.8 1290.2,152.7 1291.4,154.6 1292.6,156.4 1293.9,158.3 1295.1,160.1 1296.3,161.9 1297.5,163.7 1298.8,165.5 1300.0,167.3 1301.2,169.1 1302.4,170.9 1303.7,172.6 1304.9,174.4 1306.1,176.1 1307.3,177.8 1308.6,179.5 1309.8,181.2 1311.0,182.9 1312.2,184.6 1313.5,186.2 1314.7,187.9 1315.9,189.5 1317.1,191.2 1318.4,192.8 1319.6,194.4 1320.8,196.0 1322.0,197.6 1323.3,199.2 1324.5,200.8 1325.7,202.3 1326.9,203.9 1328.2,205.4 1329.4,207.0 1330.6,208.5 1331.8,210.0 1333.1,211.5 1334.3,213.0 1335.5,214.5 1336.7,216.0 1338.0,217.4 1339.2,218.9 1340.4,220.3 1341.6,221.8 1342.9,223.2 1344.1,224.6 1345.3,226.1 1346.5,227.5 1347.8,228.9 1349.0,230.2 1350.2,231.6 1351.4,233.0 1352.7,234.3 1353.9,235.7 1355.1,237.0 1356.3,238.4 1357.6,239.7 1358.8,241.0 1360.0,242.3 1361.2,243.6 1362.5,244.9 1363.7,246.2 1364.9,247.5 1366.1,248.8 1367.4,250.0 1368.6,251.3 1369.8,252.5 1371.0,253.7 1372.3,255.0 1373.5,256.2 1374.7,257.4 1375.9,258.6 1377.2,259.8 1378.4,261.0 1379.6,262.2 1380.8,263.4 1382.1,264.5 1383.3,265.7 1384.5,266.8 1385.7,268.0 1387.0,269.1 1388.2,270.3 1389.4,271.4 1390.6,272.5 1391.9,273.6 1393.1,274.7 1394.3,275.8 1395.5,276.9 1396.8,278.0 1398.0,279.1 1399.2,280.1 1400.4,281.2 1401.7,282.2 1402.9,283.3 1404.1,284.3 1405.3,285.4 1406.6,286.4 1407.8,287.4 1409.0,288.4 1410.2,289.4 1411.5,290.5 1412.7,291.4 1413.9,292.4 1415.1,293.4 1416.4,294.4 1417.6,295.4 1418.8,296.3 1420.0,297.3 1421.3,298.3 1422.5,299.2 1423.7,300.1 1424.9,301.1 1426.2,302.0 1427.4,302.9 1428.6,303.8 1429.8,304.8 1431.1,305.7 1432.3,306.6 1433.5,307.5 1434.7,308.4 1435.9,309.2 1437.2,310.1 1438.4,311.0 1439.6,311.9 1440.8,312.7 1442.1,313.6 1443.3,314.4 1444.5,315.3 1445.7,316.1 1447.0,316.9 1448.2,317.8 1449.4,318.6 1450.6,319.4 1451.9,320.2 1453.1,321.0 1454.3,321.8 1455.5,322.6 1456.8,323.4 1458.0,324.2 1459.2,325.0 1460.4,325.8 1461.7,326.6 1462.9,327.3 1464.1,328.1 1465.3,328.8 1466.6,329.6 1467.8,330.4 1469.0,331.1 1470.2,331.8 1471.5,332.6 1472.7,333.3 1473.9,334.0 1475.1,334.8 1476.4,335.5 1477.6,336.2 1478.8,336.9 1480.0,337.6 1481.3,338.3 1482.5,339.0 1483.7,339.7 1484.9,340.4 1486.2,341.0 1487.4,341.7 1488.6,342.4 1489.8,343.1 1491.1,343.7 1492.3,344.4 1493.5,345.0 1494.7,345.7 1496.0,346.3 1497.2,347.0 1498.4,347.6 1499.6,348.3 1500.9,348.9 1502.1,349.5 1503.3,350.1 1504.5,350.8 1505.8,351.4 1507.0,352.0 1508.2,352.6 1509.4,353.2 1510.7,353.8 1511.9,354.4 1513.1,355.0 1514.3,355.6 1515.6,356.2 1516.8,356.7 1518.0,357.3 1519.2,357.9 1520.5,358.5 1521.7,359.0 1522.9,359.6 1524.1,360.2 1525.4,360.7 1526.6,361.3 1527.8,361.8 1529.0,362.4 1530.3,362.9 1531.5,363.4 1532.7,364.0 1533.9,364.5 1535.2,365.0 1536.4,365.6 1537.6,366.1 1538.8,366.6 1540.1,367.1 1541.3,367.6 1542.5,368.1 1543.7,368.7 1545.0,369.2 1546.2,369.7 1547.4,370.1 1548.6,370.6 1549.9,371.1 1551.1,371.6 1552.3,372.1 1553.5,372.6 1554.8,373.1 1556.0,373.5 1557.2,374.0 1558.4,374.5 1559.7,374.9 1560.9,375.4 1562.1,375.9 1563.3,376.3 1564.6,376.8 1565.8,377.2 1567.0,377.7 1568.2,378.1 1569.5,378.6 1570.7,379.0 1571.9,379.4 1573.1,379.9 1574.4,380.3 1575.6,380.7 1576.8,381.2 1578.0,381.6 1579.3,382.0 1580.5,382.4 1581.7,382.8 1582.9,383.3 1584.2,383.7 1585.4,384.1 1586.6,384.5 1587.8,384.9 1589.0,385.3 1590.3,385.7 1591.5,386.1 1592.7,386.5 1593.9,386.9 1595.2,387.2 1596.4,387.6 1597.6,388.0 1598.8,388.4 1600.1,388.8 1601.3,389.1 1602.5,389.5 1603.7,389.9 1605.0,390.3 1606.2,390.6 1607.4,391.0 1608.6,391.3 1609.9,391.7 1611.1,392.1 1612.3,392.4 1613.5,392.8 1614.8,393.1 1616.0,393.5 1617.2,393.8 1618.4,394.2 1619.7,394.5 1620.9,394.8 1622.1,395.2 1623.3,395.5 1624.6,395.8 1625.8,396.2 1627.0,396.5 1628.2,396.8 1629.5,397.2 1630.7,397.5 1631.9,397.8 1633.1,398.1 1634.4,398.4 1635.6,398.7 1636.8,399.1 1638.0,399.4 1639.3,399.7 1640.5,400.0 1641.7,400.3 1642.9,400.6 1644.2,400.9 1645.4,401.2 1646.6,401.5 1647.8,401.8 1649.1,402.1 1650.3,402.4 1651.5,402.7 1652.7,402.9 1654.0,403.2 1655.2,403.5 1656.4,403.8 1657.6,404.1 1658.9,404.4 1660.1,404.6 1661.3,404.9 1662.5,405.2 1663.8,405.5 1665.0,405.7 1666.2,406.0 1667.4,406.3 1668.7,406.5 1669.9,406.8 1671.1,407.1 1672.3,407.3 1673.6,407.6 1674.8,407.8 1676.0,408.1 1677.2,408.3 1678.5,408.6 1679.7,408.8 1680.9,409.1 1682.1,409.3 1683.4,409.6 1684.6,409.8 1685.8,410.1 1687.0,410.3 1688.3,410.5 1689.5,410.8 1690.7,411.0 1691.9,411.3 1693.2,411.5 1694.4,411.7 1695.6,411.9 1696.8,412.2 1698.1,412.4 1699.3,412.6 1700.5,412.9 1701.7,413.1 1703.0,413.3 1704.2,413.5 1705.4,413.7 1706.6,414.0 1707.9,414.2 1709.1,414.4 1710.3,414.6 1711.5,414.8 1712.8,415.0 1714.0,415.2 1715.2,415.4 1716.4,415.7 1717.7,415.9 1718.9,416.1 1720.1,416.3 1721.3,416.5 1722.6,416.7 1723.8,416.9 1725.0,417.1 1726.2,417.3 1727.5,417.5 1728.7,417.7 1729.9,417.8 1731.1,418.0 1732.4,418.2 1733.6,418.4 1734.8,418.6 1736.0,418.8 1737.3,419.0 1738.5,419.2 1739.7,419.3 1740.9,419.5 1742.1,419.7 1743.4,419.9 1744.6,420.1 1745.8,420.2 1747.0,420.4 1748.3,420.6 1749.5,420.8 1750.7,420.9 1751.9,421.1 1753.2,421.3 1754.4,421.5 1755.6,421.6 1756.8,421.8 1758.1,422.0 1759.3,422.1 1760.5,422.3 1761.7,422.5 1763.0,422.6 1764.2,422.8 1765.4,422.9 1766.6,423.1 1767.9,423.3 1769.1,423.4 1770.3,423.6" fill="none" stroke="#F53B85" stroke-width="3.4" stroke-linejoin="round"/>
<circle cx="1280.4" cy="131.5" r="7.7" fill="#F53B85"/>
<circle cx="1290.2" cy="149.5" r="7.7" fill="#F53B85"/>
<circle cx="1292.0" cy="151.1" r="7.7" fill="#F53B85"/>
<circle cx="1315.7" cy="186.4" r="7.7" fill="#F53B85"/>
<circle cx="1315.7" cy="204.4" r="7.7" fill="#F53B85"/>
<circle cx="1396.8" cy="275.7" r="7.7" fill="#F53B85"/>
<circle cx="1396.1" cy="284.9" r="7.7" fill="#F53B85"/>
<circle cx="1549.9" cy="364.4" r="7.7" fill="#F53B85"/>
<circle cx="1549.9" cy="372.9" r="7.7" fill="#F53B85"/>
<circle cx="1725.0" cy="397.5" r="7.7" fill="#F53B85"/>
<circle cx="1725.0" cy="407.0" r="7.7" fill="#F53B85"/>
<polygon points="1272.1,143.2 1280.4,134.6 1288.7,143.2 1280.4,151.8" fill="#000"/>
<polygon points="1281.2,325.5 1289.5,316.9 1297.8,325.5 1289.5,334.1" fill="#000"/>
<polygon points="1281.2,332.4 1289.5,323.8 1297.8,332.4 1289.5,341.0" fill="#000"/>
<polygon points="1307.9,434.8 1316.2,426.2 1324.5,434.8 1316.2,443.4" fill="#000"/>
<polygon points="1307.9,439.7 1316.2,431.1 1324.5,439.7 1316.2,448.3" fill="#000"/>
<polygon points="1388.5,458.0 1396.8,449.4 1405.1,458.0 1396.8,466.6" fill="#000"/>
<polygon points="1541.6,458.0 1549.9,449.4 1558.2,458.0 1549.9,466.6" fill="#000"/>
<polygon points="1716.7,458.0 1725.0,449.4 1733.3,458.0 1725.0,466.6" fill="#000"/>
<text x="1368" y="115.6" font-size="37.8" stroke="#000" stroke-width="0.55"><tspan font-weight="bold">4</tspan>–AKT dissociation</text>
<line x1="1406.0" y1="151.7" x2="1443.5" y2="151.7" stroke="#F53B85" stroke-width="3.4" stroke-linecap="butt" />
<circle cx="1424.7" cy="151.7" r="7.7" fill="#F53B85"/>
<text x="1461.5" y="163.0" font-size="37.8" text-anchor="start" font-weight="normal" font-style="normal" fill="#000"  stroke="#000" stroke-width="0.55">AKT1(E17K)</text>
<line x1="1406.0" y1="196.7" x2="1443.5" y2="196.7" stroke="#000" stroke-width="3.4" stroke-linecap="butt" />
<polygon points="1416.4,196.7 1424.7,188.1 1433.0,196.7 1424.7,205.3" fill="#000"/>
<text x="1461.5" y="209.0" font-size="37.8" text-anchor="start" font-weight="normal" font-style="normal" fill="#000"  stroke="#000" stroke-width="0.55">AKT1(WT)</text>
<line x1="1406.0" y1="247.5" x2="1443.5" y2="247.5" stroke="#4DA697" stroke-width="3.4" stroke-linecap="butt" />
<rect x="1418.3" y="241.1" width="12.8" height="12.8" fill="#4DA697"/>
<text x="1461.5" y="258.5" font-size="37.8" text-anchor="start" font-weight="normal" font-style="normal" fill="#000"  stroke="#000" stroke-width="0.55">AKT2(WT)</text>
<text x="1776.5" y="117" font-size="37.8" stroke="#000" stroke-width="0.55">t<tspan font-size="25" dy="14.5">1/2</tspan><tspan dy="-14.5"> (min)</tspan></text>
<text x="1845.4" y="169.7" font-size="37.8" text-anchor="middle" font-weight="normal" font-style="normal" fill="#F53B85"  stroke="#F53B85" stroke-width="0.55">114.7</text>
<text x="1836.0" y="214.0" font-size="37.8" text-anchor="middle" font-weight="normal" font-style="normal" fill="#000"  stroke="#000" stroke-width="0.55">6.3</text>
<text x="1836.0" y="262.0" font-size="37.8" text-anchor="middle" font-weight="normal" font-style="normal" fill="#4DA697"  stroke="#4DA697" stroke-width="0.55">4.5</text>
<text x="1860.0" y="308.6" font-size="37.8" text-anchor="middle" font-weight="normal" font-style="normal" fill="#000"  stroke="#000" stroke-width="0.55">18-fold selectivity</text>
<text x="1860.0" y="355.8" font-size="37.8" text-anchor="middle" font-weight="normal" font-style="normal" fill="#4DA697"  stroke="#4DA697" stroke-width="0.55">25-fold selectivity</text>
<line x1="456.7" y1="749.0" x2="1607.8" y2="749.0" stroke="#000" stroke-width="2" stroke-linecap="butt" />
<text x="520.0" y="729.6" font-size="31.2" text-anchor="middle" font-weight="normal" font-style="normal" fill="#000"  stroke="#000" stroke-width="0.55">Cmpd</text>
<text x="710.0" y="728.0" font-size="31.2" text-anchor="middle" font-weight="normal" font-style="normal" fill="#000"  stroke="#000" stroke-width="0.55">Animal Strain</text>
<text x="924.0" y="684.0" font-size="31.2" text-anchor="middle" font-weight="normal" font-style="normal" fill="#000"  stroke="#000" stroke-width="0.55">IP Dose</text>
<text x="924.0" y="728.0" font-size="31.2" text-anchor="middle" font-weight="normal" font-style="normal" fill="#000"  stroke="#000" stroke-width="0.55">(mg/kg)</text>
<text x="1077.4" y="728.0" font-size="31.2" text-anchor="middle" font-weight="normal" stroke="#000" stroke-width="0.55">t<tspan font-size="23.7" dy="6.9">1/2</tspan><tspan dy="-6.9"> (h)</tspan></text>
<text x="1227.6" y="728.0" font-size="31.2" text-anchor="middle" font-weight="normal" stroke="#000" stroke-width="0.55">t<tspan font-size="23.7" dy="6.9">max</tspan><tspan dy="-6.9"> (h)</tspan></text>
<text x="1382.7" y="728.0" font-size="31.2" text-anchor="middle" font-weight="normal" stroke="#000" stroke-width="0.55">C<tspan font-size="23.7" dy="6.9">max</tspan><tspan dy="-6.9"> (µM)</tspan></text>
<text x="1534.3" y="680.0" font-size="31.2" text-anchor="middle" font-weight="normal" stroke="#000" stroke-width="0.55">AUC<tspan font-size="23.7" dy="6.9">last</tspan><tspan dy="-6.9"></tspan></text>
<text x="1534.0" y="728.0" font-size="31.2" text-anchor="middle" font-weight="normal" font-style="normal" fill="#000"  stroke="#000" stroke-width="0.55">(µM*h)</text>
<text x="520.0" y="796.0" font-size="31.2" text-anchor="middle" font-weight="bold" font-style="normal" fill="#000"  stroke="#000" stroke-width="0.55">3</text>
<text x="709.5" y="796.0" font-size="31.2" text-anchor="middle" font-weight="normal" font-style="normal" fill="#000"  stroke="#000" stroke-width="0.55">Nu/Nu (male)</text>
<text x="923.6" y="796.0" font-size="31.2" text-anchor="middle" font-weight="normal" font-style="normal" fill="#000"  stroke="#000" stroke-width="0.55">30</text>
<text x="1077.0" y="796.0" font-size="31.2" text-anchor="middle" font-weight="normal" font-style="normal" fill="#000"  stroke="#000" stroke-width="0.55">6.89</text>
<text x="1227.3" y="796.0" font-size="31.2" text-anchor="middle" font-weight="normal" font-style="normal" fill="#000"  stroke="#000" stroke-width="0.55">0.50</text>
<text x="1382.7" y="796.0" font-size="31.2" text-anchor="middle" font-weight="normal" font-style="normal" fill="#000"  stroke="#000" stroke-width="0.55">8.4</text>
<text x="1534.3" y="796.0" font-size="31.2" text-anchor="middle" font-weight="normal" font-style="normal" fill="#000"  stroke="#000" stroke-width="0.55">35.6</text>
<text x="520.0" y="865.6" font-size="31.2" text-anchor="middle" font-weight="bold" font-style="normal" fill="#000"  stroke="#000" stroke-width="0.55">4</text>
<text x="709.5" y="865.6" font-size="31.2" text-anchor="middle" font-weight="normal" font-style="normal" fill="#000"  stroke="#000" stroke-width="0.55">Nu/Nu (male)</text>
<text x="923.6" y="865.6" font-size="31.2" text-anchor="middle" font-weight="normal" font-style="normal" fill="#000"  stroke="#000" stroke-width="0.55">30</text>
<text x="1077.0" y="865.6" font-size="31.2" text-anchor="middle" font-weight="normal" font-style="normal" fill="#000"  stroke="#000" stroke-width="0.55">5.51</text>
<text x="1227.3" y="865.6" font-size="31.2" text-anchor="middle" font-weight="normal" font-style="normal" fill="#000"  stroke="#000" stroke-width="0.55">0.83</text>
<text x="1382.7" y="865.6" font-size="31.2" text-anchor="middle" font-weight="normal" font-style="normal" fill="#000"  stroke="#000" stroke-width="0.55">29.4</text>
<text x="1534.3" y="865.6" font-size="31.2" text-anchor="middle" font-weight="normal" font-style="normal" fill="#000"  stroke="#000" stroke-width="0.55">89.0</text>
<line x1="229.2" y1="977.4" x2="229.2" y2="1340.6" stroke="#000" stroke-width="1.8" stroke-linecap="butt" />
<line x1="880.6" y1="977.4" x2="880.6" y2="1340.6" stroke="#000" stroke-width="1.8" stroke-linecap="butt" />
<line x1="0.0" y1="1091.4" x2="1356.0" y2="1091.4" stroke="#000" stroke-width="2" stroke-linecap="butt" />
<text x="581.0" y="1021.0" font-size="31.3" text-anchor="middle" font-weight="bold" stroke="#000" stroke-width="0.55">NanoBRET IC<tspan font-size="23.8" dy="6.9">50</tspan><tspan dy="-6.9"> (nM)</tspan></text>
<text x="1121.0" y="1019.0" font-size="31.3" text-anchor="middle" font-weight="bold" font-style="normal" fill="#000"  stroke="#000" stroke-width="0.55">AKT1(E17K) fold selectivity</text>
<text x="350.3" y="1071.0" font-size="31.3" text-anchor="middle" font-weight="normal" font-style="normal" fill="#000"  stroke="#000" stroke-width="0.55">AKT1(E17K)</text>
<text x="567.7" y="1071.0" font-size="31.3" text-anchor="middle" font-weight="normal" font-style="normal" fill="#000"  stroke="#000" stroke-width="0.55">AKT1(WT)</text>
<text x="770.8" y="1071.0" font-size="31.3" text-anchor="middle" font-weight="normal" font-style="normal" fill="#000"  stroke="#000" stroke-width="0.55">AKT2(WT)</text>
<text x="995.8" y="1071.0" font-size="31.3" text-anchor="middle" font-weight="normal" font-style="normal" fill="#000"  stroke="#000" stroke-width="0.55">AKT1(WT)</text>
<text x="1234.0" y="1071.0" font-size="31.3" text-anchor="middle" font-weight="normal" font-style="normal" fill="#000"  stroke="#000" stroke-width="0.55">AKT2(WT)</text>
<text x="116.0" y="1126.7" font-size="31.3" text-anchor="middle" font-weight="bold" font-style="normal" fill="#000"  stroke="#000" stroke-width="0.55">1</text>
<text x="351.4" y="1126.7" font-size="31.3" text-anchor="middle" font-weight="normal" font-style="normal" fill="#000"  stroke="#000" stroke-width="0.55">20.0</text>
<text x="570.0" y="1126.7" font-size="31.3" text-anchor="middle" font-weight="normal" font-style="normal" fill="#000"  stroke="#000" stroke-width="0.55">10.4</text>
<text x="772.0" y="1126.7" font-size="31.3" text-anchor="middle" font-weight="normal" font-style="normal" fill="#000"  stroke="#000" stroke-width="0.55">-</text>
<text x="999.3" y="1126.7" font-size="31.3" text-anchor="middle" font-weight="normal" font-style="normal" fill="#000"  stroke="#000" stroke-width="0.55">0.5</text>
<text x="1234.7" y="1126.7" font-size="31.3" text-anchor="middle" font-weight="normal" font-style="normal" fill="#000"  stroke="#000" stroke-width="0.55">-</text>
<text x="116.0" y="1167.8" font-size="31.3" text-anchor="middle" font-weight="bold" font-style="normal" fill="#000"  stroke="#000" stroke-width="0.55">2</text>
<text x="351.4" y="1167.8" font-size="31.3" text-anchor="middle" font-weight="normal" font-style="normal" fill="#000"  stroke="#000" stroke-width="0.55">5.4</text>
<text x="570.0" y="1167.8" font-size="31.3" text-anchor="middle" font-weight="normal" font-style="normal" fill="#000"  stroke="#000" stroke-width="0.55">17.4</text>
<text x="772.0" y="1167.8" font-size="31.3" text-anchor="middle" font-weight="normal" font-style="normal" fill="#000"  stroke="#000" stroke-width="0.55">124.0</text>
<text x="999.3" y="1167.8" font-size="31.3" text-anchor="middle" font-weight="normal" font-style="normal" fill="#000"  stroke="#000" stroke-width="0.55">3.2</text>
<text x="1234.7" y="1167.8" font-size="31.3" text-anchor="middle" font-weight="normal" font-style="normal" fill="#000"  stroke="#000" stroke-width="0.55">23.0</text>
<text x="116.0" y="1208.9" font-size="31.3" text-anchor="middle" font-weight="bold" font-style="normal" fill="#000"  stroke="#000" stroke-width="0.55">3</text>
<text x="351.4" y="1208.9" font-size="31.3" text-anchor="middle" font-weight="normal" font-style="normal" fill="#000"  stroke="#000" stroke-width="0.55">23.9</text>
<text x="570.0" y="1208.9" font-size="31.3" text-anchor="middle" font-weight="normal" font-style="normal" fill="#000"  stroke="#000" stroke-width="0.55">32.8</text>
<text x="772.0" y="1208.9" font-size="31.3" text-anchor="middle" font-weight="normal" font-style="normal" fill="#000"  stroke="#000" stroke-width="0.55">112.0</text>
<text x="999.3" y="1208.9" font-size="31.3" text-anchor="middle" font-weight="normal" font-style="normal" fill="#000"  stroke="#000" stroke-width="0.55">1.4</text>
<text x="1234.7" y="1208.9" font-size="31.3" text-anchor="middle" font-weight="normal" font-style="normal" fill="#000"  stroke="#000" stroke-width="0.55">4.7</text>
<text x="116.0" y="1250.0" font-size="31.3" text-anchor="middle" font-weight="bold" font-style="normal" fill="#000"  stroke="#000" stroke-width="0.55">3-alkyne</text>
<text x="351.4" y="1250.0" font-size="31.3" text-anchor="middle" font-weight="normal" font-style="normal" fill="#000"  stroke="#000" stroke-width="0.55">44.1</text>
<text x="570.0" y="1250.0" font-size="31.3" text-anchor="middle" font-weight="normal" font-style="normal" fill="#000"  stroke="#000" stroke-width="0.55">129.0</text>
<text x="772.0" y="1250.0" font-size="31.3" text-anchor="middle" font-weight="normal" font-style="normal" fill="#000"  stroke="#000" stroke-width="0.55">1020.0</text>
<text x="999.3" y="1250.0" font-size="31.3" text-anchor="middle" font-weight="normal" font-style="normal" fill="#000"  stroke="#000" stroke-width="0.55">2.9</text>
<text x="1234.7" y="1250.0" font-size="31.3" text-anchor="middle" font-weight="normal" font-style="normal" fill="#000"  stroke="#000" stroke-width="0.55">23.1</text>
<text x="116.0" y="1291.1" font-size="31.3" text-anchor="middle" font-weight="bold" font-style="normal" fill="#000"  stroke="#000" stroke-width="0.55">4</text>
<text x="351.4" y="1291.1" font-size="31.3" text-anchor="middle" font-weight="normal" font-style="normal" fill="#000"  stroke="#000" stroke-width="0.55">8.0</text>
<text x="570.0" y="1291.1" font-size="31.3" text-anchor="middle" font-weight="normal" font-style="normal" fill="#000"  stroke="#000" stroke-width="0.55">19.8</text>
<text x="772.0" y="1291.1" font-size="31.3" text-anchor="middle" font-weight="normal" font-style="normal" fill="#000"  stroke="#000" stroke-width="0.55">188.0</text>
<text x="999.3" y="1291.1" font-size="31.3" text-anchor="middle" font-weight="normal" font-style="normal" fill="#000"  stroke="#000" stroke-width="0.55">2.5</text>
<text x="1234.7" y="1291.1" font-size="31.3" text-anchor="middle" font-weight="normal" font-style="normal" fill="#000"  stroke="#000" stroke-width="0.55">23.5</text>
<text x="116.0" y="1332.2" font-size="31.3" text-anchor="middle" font-weight="bold" font-style="normal" fill="#000"  stroke="#000" stroke-width="0.55">ARQ092</text>
<text x="351.4" y="1332.2" font-size="31.3" text-anchor="middle" font-weight="normal" font-style="normal" fill="#000"  stroke="#000" stroke-width="0.55">6.3</text>
<text x="570.0" y="1332.2" font-size="31.3" text-anchor="middle" font-weight="normal" font-style="normal" fill="#000"  stroke="#000" stroke-width="0.55">3.8</text>
<text x="772.0" y="1332.2" font-size="31.3" text-anchor="middle" font-weight="normal" font-style="normal" fill="#000"  stroke="#000" stroke-width="0.55">4.2</text>
<text x="999.3" y="1332.2" font-size="31.3" text-anchor="middle" font-weight="normal" font-style="normal" fill="#000"  stroke="#000" stroke-width="0.55">0.6</text>
<text x="1234.7" y="1332.2" font-size="31.3" text-anchor="middle" font-weight="normal" font-style="normal" fill="#000"  stroke="#000" stroke-width="0.55">0.7</text>
<line x1="1874.3" y1="1018.0" x2="1874.3" y2="1331.4" stroke="#000" stroke-width="1.8" stroke-linecap="butt" />
<line x1="2000.0" y1="1018.0" x2="2000.0" y2="1331.4" stroke="#000" stroke-width="1.8" stroke-linecap="butt" />
<line x1="1476.2" y1="1092.2" x2="2168.0" y2="1092.2" stroke="#000" stroke-width="2" stroke-linecap="butt" />
<text x="1478.0" y="1059.8" font-size="34.4" text-anchor="start" font-weight="bold" stroke="#000" stroke-width="0.55">Cell viability EC<tspan font-size="27.5" dy="7.6">50</tspan><tspan dy="-7.6"> (nM)</tspan></text>
<text x="1939.8" y="1068.6" font-size="35" text-anchor="middle" font-weight="bold" font-style="normal" fill="#000"  stroke="#000" stroke-width="0.55">4</text>
<text x="2019.0" y="1067.4" font-size="35" text-anchor="start" font-weight="normal" font-style="normal" fill="#000"  stroke="#000" stroke-width="0.55">ARQ092</text>
<text x="1851" y="1150.5" font-size="35" text-anchor="end" stroke="#000" stroke-width="0.55">LAPC4-CR (AKT1<tspan font-size="25" dy="-12">E17K</tspan><tspan dy="12">)</tspan></text>
<text x="1939.0" y="1149.0" font-size="34" text-anchor="middle" font-weight="normal" font-style="normal" fill="#000"  stroke="#000" stroke-width="0.55">9</text>
<text x="2083.8" y="1149.0" font-size="34" text-anchor="middle" font-weight="normal" font-style="normal" fill="#000"  stroke="#000" stroke-width="0.55">37</text>
<text x="1851" y="1202.7" font-size="35" text-anchor="end" stroke="#000" stroke-width="0.55">HBCx-2 (AKT1<tspan font-size="25" dy="-12">E17K</tspan><tspan dy="12">)</tspan></text>
<text x="1939.0" y="1201.2" font-size="34" text-anchor="middle" font-weight="normal" font-style="normal" fill="#000"  stroke="#000" stroke-width="0.55">109</text>
<text x="2083.8" y="1201.2" font-size="34" text-anchor="middle" font-weight="normal" font-style="normal" fill="#000"  stroke="#000" stroke-width="0.55">147</text>
<text x="1851" y="1255.2" font-size="35" text-anchor="end" stroke="#000" stroke-width="0.55">SkBr3 (AKT1<tspan font-size="25" dy="-12">WT</tspan><tspan dy="12">)</tspan></text>
<text x="1939.0" y="1253.7" font-size="34" text-anchor="middle" font-weight="normal" font-style="normal" fill="#000"  stroke="#000" stroke-width="0.55">995</text>
<text x="2083.8" y="1253.7" font-size="34" text-anchor="middle" font-weight="normal" font-style="normal" fill="#000"  stroke="#000" stroke-width="0.55">106</text>
<text x="1851" y="1303.5" font-size="35" text-anchor="end" stroke="#000" stroke-width="0.55">MCF7 (AKT1<tspan font-size="25" dy="-12">WT</tspan><tspan dy="12">)</tspan></text>
<text x="1939.0" y="1302.0" font-size="34" text-anchor="middle" font-weight="normal" font-style="normal" fill="#000"  stroke="#000" stroke-width="0.55">5200</text>
<text x="2083.8" y="1302.0" font-size="34" text-anchor="middle" font-weight="normal" font-style="normal" fill="#000"  stroke="#000" stroke-width="0.55">111</text>
<text x="888" y="1462" font-size="34.5" text-anchor="middle" stroke="#000" stroke-width="0.55"><tspan font-weight="bold">4</tspan> (40 mg/kg)</text>
<line x1="521.2" y1="1486.0" x2="1313.6" y2="1486.0" stroke="#000" stroke-width="1.8" stroke-linecap="butt" />
<text x="397.0" y="1526.8" font-size="34.5" text-anchor="middle" font-weight="normal" font-style="normal" fill="#000"  stroke="#000" stroke-width="0.55">vehicle</text>
<text x="639.6" y="1526.8" font-size="34.5" text-anchor="middle" font-weight="normal" font-style="normal" fill="#000"  stroke="#000" stroke-width="0.55">2 h</text>
<text x="927.7" y="1526.8" font-size="34.5" text-anchor="middle" font-weight="normal" font-style="normal" fill="#000"  stroke="#000" stroke-width="0.55">7 h</text>
<text x="1201.0" y="1526.8" font-size="34.5" text-anchor="middle" font-weight="normal" font-style="normal" fill="#000"  stroke="#000" stroke-width="0.55">24 h</text>
<line x1="251.5" y1="1545.8" x2="498.7" y2="1545.8" stroke="#000" stroke-width="1.8" stroke-linecap="butt" />
<line x1="521.2" y1="1545.8" x2="767.8" y2="1545.8" stroke="#000" stroke-width="1.8" stroke-linecap="butt" />
<line x1="794.5" y1="1545.8" x2="1041.0" y2="1545.8" stroke="#000" stroke-width="1.8" stroke-linecap="butt" />
<line x1="1065.0" y1="1545.8" x2="1313.6" y2="1545.8" stroke="#000" stroke-width="1.8" stroke-linecap="butt" />
<text x="228.0" y="1559.2" font-size="34.5" text-anchor="end" font-weight="normal" font-style="normal" fill="#000"  stroke="#000" stroke-width="0.55">mouse</text>
<text x="241.7" y="1594.7" font-size="34.5" text-anchor="end" font-weight="normal" font-style="normal" fill="#000"  stroke="#000" stroke-width="0.55">replicate</text>
<text x="268.4" y="1590.0" font-size="34.5" text-anchor="middle" font-weight="normal" font-style="normal" fill="#000"  stroke="#000" stroke-width="0.55">1</text>
<text x="338.8" y="1590.0" font-size="34.5" text-anchor="middle" font-weight="normal" font-style="normal" fill="#000"  stroke="#000" stroke-width="0.55">2</text>
<text x="401.5" y="1590.0" font-size="34.5" text-anchor="middle" font-weight="normal" font-style="normal" fill="#000"  stroke="#000" stroke-width="0.55">3</text>
<text x="469.1" y="1590.0" font-size="34.5" text-anchor="middle" font-weight="normal" font-style="normal" fill="#000"  stroke="#000" stroke-width="0.55">4</text>
<text x="543.0" y="1590.0" font-size="34.5" text-anchor="middle" font-weight="normal" font-style="normal" fill="#000"  stroke="#000" stroke-width="0.55">1</text>
<text x="600.8" y="1590.0" font-size="34.5" text-anchor="middle" font-weight="normal" font-style="normal" fill="#000"  stroke="#000" stroke-width="0.55">2</text>
<text x="671.3" y="1590.0" font-size="34.5" text-anchor="middle" font-weight="normal" font-style="normal" fill="#000"  stroke="#000" stroke-width="0.55">3</text>
<text x="739.6" y="1590.0" font-size="34.5" text-anchor="middle" font-weight="normal" font-style="normal" fill="#000"  stroke="#000" stroke-width="0.55">4</text>
<text x="811.4" y="1590.0" font-size="34.5" text-anchor="middle" font-weight="normal" font-style="normal" fill="#000"  stroke="#000" stroke-width="0.55">1</text>
<text x="879.0" y="1590.0" font-size="34.5" text-anchor="middle" font-weight="normal" font-style="normal" fill="#000"  stroke="#000" stroke-width="0.55">2</text>
<text x="944.6" y="1590.0" font-size="34.5" text-anchor="middle" font-weight="normal" font-style="normal" fill="#000"  stroke="#000" stroke-width="0.55">3</text>
<text x="1012.2" y="1590.0" font-size="34.5" text-anchor="middle" font-weight="normal" font-style="normal" fill="#000"  stroke="#000" stroke-width="0.55">4</text>
<text x="1086.8" y="1590.0" font-size="34.5" text-anchor="middle" font-weight="normal" font-style="normal" fill="#000"  stroke="#000" stroke-width="0.55">1</text>
<text x="1145.3" y="1590.0" font-size="34.5" text-anchor="middle" font-weight="normal" font-style="normal" fill="#000"  stroke="#000" stroke-width="0.55">2</text>
<text x="1213.6" y="1590.0" font-size="34.5" text-anchor="middle" font-weight="normal" font-style="normal" fill="#000"  stroke="#000" stroke-width="0.55">3</text>
<text x="1284.8" y="1590.0" font-size="34.5" text-anchor="middle" font-weight="normal" font-style="normal" fill="#000"  stroke="#000" stroke-width="0.55">4</text>
<line x1="246.8" y1="1604.3" x2="298.8" y2="1604.3" stroke="#000" stroke-width="1.8" stroke-linecap="butt" />
<line x1="316.0" y1="1604.3" x2="368.0" y2="1604.3" stroke="#000" stroke-width="1.8" stroke-linecap="butt" />
<line x1="377.3" y1="1604.3" x2="429.3" y2="1604.3" stroke="#000" stroke-width="1.8" stroke-linecap="butt" />
<line x1="446.7" y1="1604.3" x2="498.7" y2="1604.3" stroke="#000" stroke-width="1.8" stroke-linecap="butt" />
<line x1="519.6" y1="1604.3" x2="571.6" y2="1604.3" stroke="#000" stroke-width="1.8" stroke-linecap="butt" />
<line x1="578.7" y1="1604.3" x2="630.7" y2="1604.3" stroke="#000" stroke-width="1.8" stroke-linecap="butt" />
<line x1="648.0" y1="1604.3" x2="700.0" y2="1604.3" stroke="#000" stroke-width="1.8" stroke-linecap="butt" />
<line x1="716.8" y1="1604.3" x2="768.8" y2="1604.3" stroke="#000" stroke-width="1.8" stroke-linecap="butt" />
<line x1="789.7" y1="1604.3" x2="841.7" y2="1604.3" stroke="#000" stroke-width="1.8" stroke-linecap="butt" />
<line x1="858.9" y1="1604.3" x2="910.9" y2="1604.3" stroke="#000" stroke-width="1.8" stroke-linecap="butt" />
<line x1="920.3" y1="1604.3" x2="972.3" y2="1604.3" stroke="#000" stroke-width="1.8" stroke-linecap="butt" />
<line x1="989.7" y1="1604.3" x2="1041.7" y2="1604.3" stroke="#000" stroke-width="1.8" stroke-linecap="butt" />
<line x1="1062.6" y1="1604.3" x2="1114.6" y2="1604.3" stroke="#000" stroke-width="1.8" stroke-linecap="butt" />
<line x1="1121.8" y1="1604.3" x2="1173.8" y2="1604.3" stroke="#000" stroke-width="1.8" stroke-linecap="butt" />
<line x1="1191.2" y1="1604.3" x2="1243.2" y2="1604.3" stroke="#000" stroke-width="1.8" stroke-linecap="butt" />
<line x1="1260.0" y1="1604.3" x2="1312.0" y2="1604.3" stroke="#000" stroke-width="1.8" stroke-linecap="butt" />
<defs><filter id="bl" filterUnits="userSpaceOnUse" x="200" y="1590" width="1200" height="400"><feGaussianBlur stdDeviation="1.6"/></filter><filter id="bl2" filterUnits="userSpaceOnUse" x="200" y="1590" width="1200" height="400"><feGaussianBlur stdDeviation="2.6"/></filter></defs>
<clipPath id="cb0"><rect x="235" y="1613" width="1089.4" height="58.4"/></clipPath><g clip-path="url(#cb0)">
<path d="M249.6,1639.7 Q269.2,1643.2 288.8,1640.7 L288.8,1643.7 Q269.2,1646.2 249.6,1642.7 Z" fill="rgb(0,0,0)" stroke="rgb(0,0,0)" stroke-width="15.8" stroke-linejoin="round" filter="url(#bl)"/>
<path d="M312.6,1640.3 Q333.5,1644.3 354.4,1640.3 L354.4,1642.7 Q333.5,1646.7 312.6,1642.7 Z" fill="rgb(0,0,0)" stroke="rgb(0,0,0)" stroke-width="12.4" stroke-linejoin="round" filter="url(#bl)"/>
<path d="M377.6,1641.7 Q399.1,1645.7 420.7,1641.7 L420.7,1644.7 Q399.1,1648.7 377.6,1644.7 Z" fill="rgb(0,0,0)" stroke="rgb(0,0,0)" stroke-width="15.8" stroke-linejoin="round" filter="url(#bl)"/>
<path d="M445.4,1641.1 Q467.1,1646.1 488.7,1643.1 L488.7,1645.7 Q467.1,1648.7 445.4,1643.7 Z" fill="rgb(0,0,0)" stroke="rgb(0,0,0)" stroke-width="14.1" stroke-linejoin="round" filter="url(#bl)"/>
<path d="M510.2,1645.7 Q534.9,1645.7 559.5,1645.7 L559.5,1647.8 Q534.9,1647.8 510.2,1647.8 Z" fill="rgb(147,147,147)" stroke="rgb(147,147,147)" stroke-width="4.9" stroke-linejoin="round" filter="url(#bl2)"/>
<path d="M576.1,1647.0 Q602.2,1647.0 628.2,1647.0 L628.2,1648.5 Q602.2,1648.5 576.1,1648.5 Z" fill="rgb(229,229,229)" stroke="rgb(229,229,229)" stroke-width="3.5" stroke-linejoin="round" filter="url(#bl2)"/>
<path d="M646.8,1646.8 Q672.0,1646.8 697.2,1646.8 L697.2,1648.2 Q672.0,1648.2 646.8,1648.2 Z" fill="rgb(237,237,237)" stroke="rgb(237,237,237)" stroke-width="3.5" stroke-linejoin="round" filter="url(#bl2)"/>
<path d="M714.1,1645.1 Q739.8,1645.1 765.4,1645.1 L765.4,1646.9 Q739.8,1646.9 714.1,1646.9 Z" fill="rgb(178,178,178)" stroke="rgb(178,178,178)" stroke-width="4.2" stroke-linejoin="round" filter="url(#bl2)"/>
<path d="M784.9,1645.1 Q809.2,1645.1 833.5,1645.1 L833.5,1646.9 Q809.2,1646.9 784.9,1646.9 Z" fill="rgb(204,204,204)" stroke="rgb(204,204,204)" stroke-width="4.2" stroke-linejoin="round" filter="url(#bl2)"/>
<path d="M847.0,1644.8 Q871.0,1644.8 895.0,1644.8 L895.0,1646.2 Q871.0,1646.2 847.0,1646.2 Z" fill="rgb(216,216,216)" stroke="rgb(216,216,216)" stroke-width="3.5" stroke-linejoin="round" filter="url(#bl2)"/>
<path d="M914.5,1645.7 Q941.1,1645.7 967.8,1645.7 L967.8,1647.8 Q941.1,1647.8 914.5,1647.8 Z" fill="rgb(153,153,153)" stroke="rgb(153,153,153)" stroke-width="4.9" stroke-linejoin="round" filter="url(#bl2)"/>
<path d="M984.9,1645.1 Q1010.5,1645.1 1036.2,1645.1 L1036.2,1646.9 Q1010.5,1646.9 984.9,1646.9 Z" fill="rgb(191,191,191)" stroke="rgb(191,191,191)" stroke-width="4.2" stroke-linejoin="round" filter="url(#bl2)"/>
<path d="M1059.1,1642.8 Q1081.4,1644.3 1103.7,1641.8 L1103.7,1645.0 Q1081.4,1647.5 1059.1,1646.0 Z" fill="rgb(0,0,0)" stroke="rgb(0,0,0)" stroke-width="16.6" stroke-linejoin="round" filter="url(#bl)"/>
<path d="M1128.2,1641.3 Q1150.2,1642.8 1172.1,1640.3 L1172.1,1643.3 Q1150.2,1645.8 1128.2,1644.3 Z" fill="rgb(0,0,0)" stroke="rgb(0,0,0)" stroke-width="15.8" stroke-linejoin="round" filter="url(#bl)"/>
<path d="M1197.0,1640.0 Q1218.8,1642.5 1240.7,1639.0 L1240.7,1642.4 Q1218.8,1645.9 1197.0,1643.4 Z" fill="rgb(0,0,0)" stroke="rgb(0,0,0)" stroke-width="17.5" stroke-linejoin="round" filter="url(#bl)"/>
<path d="M1266.1,1639.9 Q1288.3,1643.7 1310.6,1636.4 L1310.6,1639.6 Q1288.3,1646.8 1266.1,1643.1 Z" fill="rgb(0,0,0)" stroke="rgb(0,0,0)" stroke-width="16.6" stroke-linejoin="round" filter="url(#bl)"/>
</g>
<rect x="235" y="1613" width="1089.4" height="58.4" fill="none" stroke="#000" stroke-width="2"/>
<clipPath id="cb1"><rect x="235" y="1688" width="1093.0" height="58.4"/></clipPath><g clip-path="url(#cb1)">
<path d="M252.6,1712.0 Q274.4,1711.0 296.2,1718.0 L296.2,1720.6 Q274.4,1713.6 252.6,1714.6 Z" fill="rgb(0,0,0)" stroke="rgb(0,0,0)" stroke-width="13.3" stroke-linejoin="round" filter="url(#bl)"/>
<path d="M320.5,1722.1 Q340.6,1714.6 360.8,1713.1 L360.8,1714.9 Q340.6,1716.4 320.5,1723.9 Z" fill="rgb(0,0,0)" stroke="rgb(0,0,0)" stroke-width="9.1" stroke-linejoin="round" filter="url(#bl)"/>
<path d="M382.6,1713.4 Q404.6,1717.4 426.6,1713.4 L426.6,1715.8 Q404.6,1719.8 382.6,1715.8 Z" fill="rgb(0,0,0)" stroke="rgb(0,0,0)" stroke-width="12.4" stroke-linejoin="round" filter="url(#bl)"/>
<path d="M448.3,1713.4 Q471.5,1717.4 494.8,1713.4 L494.8,1716.0 Q471.5,1720.0 448.3,1716.0 Z" fill="rgb(0,0,0)" stroke="rgb(0,0,0)" stroke-width="13.3" stroke-linejoin="round" filter="url(#bl)"/>
<path d="M517.6,1714.0 Q540.0,1718.0 562.3,1714.0 L562.3,1716.6 Q540.0,1720.6 517.6,1716.6 Z" fill="rgb(0,0,0)" stroke="rgb(0,0,0)" stroke-width="13.3" stroke-linejoin="round" filter="url(#bl)"/>
<path d="M584.4,1713.9 Q605.7,1717.9 627.0,1713.9 L627.0,1716.1 Q605.7,1720.1 584.4,1716.1 Z" fill="rgb(0,0,0)" stroke="rgb(0,0,0)" stroke-width="11.6" stroke-linejoin="round" filter="url(#bl)"/>
<path d="M651.6,1714.3 Q674.0,1716.3 696.4,1718.3 L696.4,1720.5 Q674.0,1718.5 651.6,1716.5 Z" fill="rgb(0,0,0)" stroke="rgb(0,0,0)" stroke-width="11.6" stroke-linejoin="round" filter="url(#bl)"/>
<path d="M721.8,1714.2 Q743.9,1718.2 765.9,1714.2 L765.9,1716.8 Q743.9,1720.8 721.8,1716.8 Z" fill="rgb(0,0,0)" stroke="rgb(0,0,0)" stroke-width="14.1" stroke-linejoin="round" filter="url(#bl)"/>
<path d="M793.9,1714.2 Q813.5,1718.2 833.1,1714.2 L833.1,1717.2 Q813.5,1721.2 793.9,1717.2 Z" fill="rgb(0,0,0)" stroke="rgb(0,0,0)" stroke-width="15.8" stroke-linejoin="round" filter="url(#bl)"/>
<path d="M856.0,1712.3 Q876.5,1717.3 897.0,1714.3 L897.0,1716.9 Q876.5,1719.9 856.0,1714.9 Z" fill="rgb(0,0,0)" stroke="rgb(0,0,0)" stroke-width="13.3" stroke-linejoin="round" filter="url(#bl)"/>
<path d="M922.6,1714.7 Q945.2,1718.2 967.8,1715.7 L967.8,1718.3 Q945.2,1720.8 922.6,1717.3 Z" fill="rgb(0,0,0)" stroke="rgb(0,0,0)" stroke-width="13.3" stroke-linejoin="round" filter="url(#bl)"/>
<path d="M991.8,1715.1 Q1013.2,1718.6 1034.6,1716.1 L1034.6,1718.7 Q1013.2,1721.2 991.8,1717.7 Z" fill="rgb(0,0,0)" stroke="rgb(0,0,0)" stroke-width="14.1" stroke-linejoin="round" filter="url(#bl)"/>
<path d="M1058.8,1714.6 Q1081.8,1718.6 1104.8,1714.6 L1104.8,1716.8 Q1081.8,1720.8 1058.8,1716.8 Z" fill="rgb(0,0,0)" stroke="rgb(0,0,0)" stroke-width="11.6" stroke-linejoin="round" filter="url(#bl)"/>
<path d="M1127.2,1715.3 Q1151.2,1719.3 1175.2,1715.3 L1175.2,1717.7 Q1151.2,1721.7 1127.2,1717.7 Z" fill="rgb(0,0,0)" stroke="rgb(0,0,0)" stroke-width="12.4" stroke-linejoin="round" filter="url(#bl)"/>
<path d="M1196.8,1714.9 Q1221.5,1718.9 1246.2,1714.9 L1246.2,1717.1 Q1221.5,1721.1 1196.8,1717.1 Z" fill="rgb(0,0,0)" stroke="rgb(0,0,0)" stroke-width="11.6" stroke-linejoin="round" filter="url(#bl)"/>
<path d="M1268.0,1714.7 Q1291.1,1718.2 1314.2,1711.7 L1314.2,1714.3 Q1291.1,1720.8 1268.0,1717.3 Z" fill="rgb(0,0,0)" stroke="rgb(0,0,0)" stroke-width="13.3" stroke-linejoin="round" filter="url(#bl)"/>
</g>
<rect x="235" y="1688" width="1093.0" height="58.4" fill="none" stroke="#000" stroke-width="2"/>
<clipPath id="cb2"><rect x="235" y="1760.6" width="1093.0" height="67.7"/></clipPath><g clip-path="url(#cb2)">
<path d="M248.3,1794.7 Q267.5,1798.2 286.7,1795.7 L286.7,1798.3 Q267.5,1800.8 248.3,1797.3 Z" fill="rgb(0,0,0)" stroke="rgb(0,0,0)" stroke-width="13.3" stroke-linejoin="round" filter="url(#bl)"/>
<path d="M309.8,1796.0 Q330.7,1799.5 351.6,1797.0 L351.6,1799.0 Q330.7,1801.5 309.8,1798.0 Z" fill="rgb(0,0,0)" stroke="rgb(0,0,0)" stroke-width="10.8" stroke-linejoin="round" filter="url(#bl)"/>
<path d="M375.9,1796.8 Q397.5,1800.3 419.1,1797.8 L419.1,1800.2 Q397.5,1802.7 375.9,1799.2 Z" fill="rgb(0,0,0)" stroke="rgb(0,0,0)" stroke-width="12.4" stroke-linejoin="round" filter="url(#bl)"/>
<path d="M441.8,1798.1 Q464.3,1801.1 486.8,1800.1 L486.8,1802.5 Q464.3,1803.5 441.8,1800.5 Z" fill="rgb(0,0,0)" stroke="rgb(0,0,0)" stroke-width="12.4" stroke-linejoin="round" filter="url(#bl)"/>
<path d="M509.9,1801.2 Q533.9,1805.7 557.9,1804.2 L557.9,1805.8 Q533.9,1807.3 509.9,1802.8 Z" fill="rgb(38,38,38)" stroke="rgb(38,38,38)" stroke-width="8.2" stroke-linejoin="round" filter="url(#bl)"/>
<path d="M577.9,1806.1 Q603.6,1806.1 629.3,1806.1 L629.3,1807.9 Q603.6,1807.9 577.9,1807.9 Z" fill="rgb(191,191,191)" stroke="rgb(191,191,191)" stroke-width="4.2" stroke-linejoin="round" filter="url(#bl2)"/>
<path d="M647.0,1807.2 Q672.3,1807.2 697.6,1807.2 L697.6,1808.8 Q672.3,1808.8 647.0,1808.8 Z" fill="rgb(216,216,216)" stroke="rgb(216,216,216)" stroke-width="3.5" stroke-linejoin="round" filter="url(#bl2)"/>
<path d="M715.8,1806.0 Q742.5,1806.0 769.2,1806.0 L769.2,1808.0 Q742.5,1808.0 715.8,1808.0 Z" fill="rgb(165,165,165)" stroke="rgb(165,165,165)" stroke-width="4.9" stroke-linejoin="round" filter="url(#bl2)"/>
<path d="M786.7,1805.0 Q812.0,1805.0 837.2,1805.0 L837.2,1807.0 Q812.0,1807.0 786.7,1807.0 Z" fill="rgb(178,178,178)" stroke="rgb(178,178,178)" stroke-width="4.9" stroke-linejoin="round" filter="url(#bl2)"/>
<path d="M853.2,1804.5 Q878.6,1804.5 903.9,1804.5 L903.9,1806.5 Q878.6,1806.5 853.2,1806.5 Z" fill="rgb(165,165,165)" stroke="rgb(165,165,165)" stroke-width="4.9" stroke-linejoin="round" filter="url(#bl2)"/>
<path d="M921.5,1804.5 Q948.8,1804.5 976.1,1804.5 L976.1,1806.5 Q948.8,1806.5 921.5,1806.5 Z" fill="rgb(178,178,178)" stroke="rgb(178,178,178)" stroke-width="4.9" stroke-linejoin="round" filter="url(#bl2)"/>
<path d="M994.1,1802.7 Q1020.2,1802.7 1046.2,1802.7 L1046.2,1805.3 Q1020.2,1805.3 994.1,1805.3 Z" fill="rgb(127,127,127)" stroke="rgb(127,127,127)" stroke-width="6.3" stroke-linejoin="round" filter="url(#bl2)"/>
<path d="M1067.6,1792.8 Q1089.4,1792.8 1111.3,1792.8 L1111.3,1801.6 Q1089.4,1801.6 1067.6,1801.6 Z" fill="rgb(0,0,0)" stroke="rgb(0,0,0)" stroke-width="18.0" stroke-linejoin="round" filter="url(#bl)"/>
<path d="M1134.8,1792.1 Q1156.1,1794.6 1177.4,1791.1 L1177.4,1796.9 Q1156.1,1800.4 1134.8,1797.9 Z" fill="rgb(0,0,0)" stroke="rgb(0,0,0)" stroke-width="18.0" stroke-linejoin="round" filter="url(#bl)"/>
<path d="M1202.9,1791.2 Q1224.8,1793.7 1246.6,1790.2 L1246.6,1795.0 Q1224.8,1798.5 1202.9,1796.0 Z" fill="rgb(0,0,0)" stroke="rgb(0,0,0)" stroke-width="18.0" stroke-linejoin="round" filter="url(#bl)"/>
<path d="M1273.7,1789.8 Q1294.2,1792.8 1314.6,1787.8 L1314.6,1792.6 Q1294.2,1797.6 1273.7,1794.6 Z" fill="rgb(0,0,0)" stroke="rgb(0,0,0)" stroke-width="18.0" stroke-linejoin="round" filter="url(#bl)"/>
</g>
<rect x="235" y="1760.6" width="1093.0" height="67.7" fill="none" stroke="#000" stroke-width="2"/>
<clipPath id="cb3"><rect x="235" y="1845.3" width="1093.0" height="58.3"/></clipPath><g clip-path="url(#cb3)">
<path d="M251.8,1868.8 Q267.8,1868.8 283.8,1868.8 L283.8,1871.8 Q267.8,1871.8 251.8,1871.8 Z" fill="rgb(0,0,0)" stroke="rgb(0,0,0)" stroke-width="15.8" stroke-linejoin="round" filter="url(#bl)"/>
<path d="M313.6,1870.1 Q332.1,1873.6 350.6,1871.1 L350.6,1873.3 Q332.1,1875.8 313.6,1872.3 Z" fill="rgb(0,0,0)" stroke="rgb(0,0,0)" stroke-width="11.6" stroke-linejoin="round" filter="url(#bl)"/>
<path d="M382.2,1872.0 Q399.6,1872.0 417.0,1872.0 L417.0,1875.2 Q399.6,1875.2 382.2,1875.2 Z" fill="rgb(0,0,0)" stroke="rgb(0,0,0)" stroke-width="16.6" stroke-linejoin="round" filter="url(#bl)"/>
<path d="M447.9,1872.0 Q466.6,1870.0 485.4,1872.0 L485.4,1875.8 Q466.6,1873.8 447.9,1875.8 Z" fill="rgb(0,0,0)" stroke="rgb(0,0,0)" stroke-width="18.0" stroke-linejoin="round" filter="url(#bl)"/>
<path d="M516.5,1874.1 Q534.9,1874.1 553.3,1874.1 L553.3,1877.5 Q534.9,1877.5 516.5,1877.5 Z" fill="rgb(0,0,0)" stroke="rgb(0,0,0)" stroke-width="17.5" stroke-linejoin="round" filter="url(#bl)"/>
<path d="M583.3,1876.9 Q602.9,1876.9 622.5,1876.9 L622.5,1879.7 Q602.9,1879.7 583.3,1879.7 Z" fill="rgb(0,0,0)" stroke="rgb(0,0,0)" stroke-width="15.0" stroke-linejoin="round" filter="url(#bl)"/>
<path d="M653.8,1878.7 Q673.0,1878.7 692.3,1878.7 L692.3,1881.3 Q673.0,1881.3 653.8,1881.3 Z" fill="rgb(0,0,0)" stroke="rgb(0,0,0)" stroke-width="14.1" stroke-linejoin="round" filter="url(#bl)"/>
<path d="M720.8,1877.2 Q741.8,1877.2 762.8,1877.2 L762.8,1880.0 Q741.8,1880.0 720.8,1880.0 Z" fill="rgb(0,0,0)" stroke="rgb(0,0,0)" stroke-width="15.0" stroke-linejoin="round" filter="url(#bl)"/>
<path d="M792.0,1877.2 Q810.8,1877.2 829.6,1877.2 L829.6,1880.6 Q810.8,1880.6 792.0,1880.6 Z" fill="rgb(0,0,0)" stroke="rgb(0,0,0)" stroke-width="17.5" stroke-linejoin="round" filter="url(#bl)"/>
<path d="M855.1,1877.6 Q873.5,1877.6 891.8,1877.6 L891.8,1880.2 Q873.5,1880.2 855.1,1880.2 Z" fill="rgb(0,0,0)" stroke="rgb(0,0,0)" stroke-width="14.1" stroke-linejoin="round" filter="url(#bl)"/>
<path d="M923.4,1876.1 Q944.2,1876.1 964.9,1876.1 L964.9,1879.5 Q944.2,1879.5 923.4,1879.5 Z" fill="rgb(0,0,0)" stroke="rgb(0,0,0)" stroke-width="17.5" stroke-linejoin="round" filter="url(#bl)"/>
<path d="M994.6,1873.7 Q1015.0,1876.7 1035.4,1871.7 L1035.4,1876.5 Q1015.0,1881.5 994.6,1878.5 Z" fill="rgb(0,0,0)" stroke="rgb(0,0,0)" stroke-width="18.0" stroke-linejoin="round" filter="url(#bl)"/>
<path d="M1064.1,1872.8 Q1084.5,1875.3 1105.0,1871.8 L1105.0,1875.0 Q1084.5,1878.5 1064.1,1876.0 Z" fill="rgb(0,0,0)" stroke="rgb(0,0,0)" stroke-width="16.6" stroke-linejoin="round" filter="url(#bl)"/>
<path d="M1133.1,1870.5 Q1153.8,1871.0 1174.6,1869.5 L1174.6,1872.9 Q1153.8,1874.4 1133.1,1873.9 Z" fill="rgb(0,0,0)" stroke="rgb(0,0,0)" stroke-width="17.5" stroke-linejoin="round" filter="url(#bl)"/>
<path d="M1204.3,1869.8 Q1224.4,1872.8 1244.6,1867.8 L1244.6,1871.6 Q1224.4,1876.6 1204.3,1873.6 Z" fill="rgb(0,0,0)" stroke="rgb(0,0,0)" stroke-width="18.0" stroke-linejoin="round" filter="url(#bl)"/>
<path d="M1273.4,1870.0 Q1293.2,1875.0 1313.0,1866.0 L1313.0,1869.4 Q1293.2,1878.4 1273.4,1873.4 Z" fill="rgb(0,0,0)" stroke="rgb(0,0,0)" stroke-width="17.5" stroke-linejoin="round" filter="url(#bl)"/>
</g>
<rect x="235" y="1845.3" width="1093.0" height="58.3" fill="none" stroke="#000" stroke-width="2"/>
<clipPath id="cb4"><rect x="235" y="1921.7" width="1093.0" height="59.3"/></clipPath><g clip-path="url(#cb4)">
<path d="M244.8,1940.1 Q268.1,1946.6 291.5,1942.7 L291.5,1945.1 Q268.1,1949.0 244.8,1942.5 Z" fill="rgb(0,0,0)" stroke="rgb(0,0,0)" stroke-width="13.0" stroke-linejoin="round" filter="url(#bl)"/>
<path d="M311.5,1943.6 Q334.1,1947.1 356.8,1944.2 L356.8,1946.7 Q334.1,1949.6 311.5,1946.0 Z" fill="rgb(0,0,0)" stroke="rgb(0,0,0)" stroke-width="13.0" stroke-linejoin="round" filter="url(#bl)"/>
<path d="M377.7,1943.4 Q401.1,1949.3 424.5,1944.7 L424.5,1947.4 Q401.1,1951.9 377.7,1946.1 Z" fill="rgb(0,0,0)" stroke="rgb(0,0,0)" stroke-width="13.9" stroke-linejoin="round" filter="url(#bl)"/>
<path d="M443.9,1944.7 Q468.2,1950.6 492.5,1946.0 L492.5,1948.7 Q468.2,1953.2 443.9,1947.4 Z" fill="rgb(0,0,0)" stroke="rgb(0,0,0)" stroke-width="13.9" stroke-linejoin="round" filter="url(#bl)"/>
<path d="M512.4,1946.6 Q536.2,1953.4 560.1,1948.5 L560.1,1951.3 Q536.2,1956.2 512.4,1949.4 Z" fill="rgb(0,0,0)" stroke="rgb(0,0,0)" stroke-width="14.7" stroke-linejoin="round" filter="url(#bl)"/>
<path d="M581.3,1950.7 Q606.3,1955.9 631.4,1950.7 L631.4,1953.3 Q606.3,1958.5 581.3,1953.3 Z" fill="rgb(0,0,0)" stroke="rgb(0,0,0)" stroke-width="13.9" stroke-linejoin="round" filter="url(#bl)"/>
<path d="M650.4,1952.6 Q674.3,1957.8 698.2,1952.6 L698.2,1955.4 Q674.3,1960.6 650.4,1955.4 Z" fill="rgb(0,0,0)" stroke="rgb(0,0,0)" stroke-width="14.7" stroke-linejoin="round" filter="url(#bl)"/>
<path d="M719.4,1951.2 Q744.4,1956.7 769.4,1950.5 L769.4,1953.4 Q744.4,1959.5 719.4,1954.0 Z" fill="rgb(0,0,0)" stroke="rgb(0,0,0)" stroke-width="14.7" stroke-linejoin="round" filter="url(#bl)"/>
<path d="M788.8,1951.6 Q814.0,1957.1 839.4,1948.3 L839.4,1951.2 Q814.0,1959.9 788.8,1954.4 Z" fill="rgb(0,0,0)" stroke="rgb(0,0,0)" stroke-width="14.7" stroke-linejoin="round" filter="url(#bl)"/>
<path d="M853.6,1950.9 Q878.0,1957.1 902.3,1951.6 L902.3,1954.2 Q878.0,1959.7 853.6,1953.6 Z" fill="rgb(0,0,0)" stroke="rgb(0,0,0)" stroke-width="13.9" stroke-linejoin="round" filter="url(#bl)"/>
<path d="M921.1,1952.3 Q947.8,1956.2 974.5,1949.7 L974.5,1952.3 Q947.8,1958.8 921.1,1954.9 Z" fill="rgb(0,0,0)" stroke="rgb(0,0,0)" stroke-width="13.9" stroke-linejoin="round" filter="url(#bl)"/>
<path d="M993.9,1950.9 Q1018.9,1954.8 1043.9,1948.3 L1043.9,1950.9 Q1018.9,1957.4 993.9,1953.5 Z" fill="rgb(0,0,0)" stroke="rgb(0,0,0)" stroke-width="13.9" stroke-linejoin="round" filter="url(#bl)"/>
<path d="M1063.8,1946.7 Q1087.7,1952.5 1111.6,1945.4 L1111.6,1948.2 Q1087.7,1955.4 1063.8,1949.5 Z" fill="rgb(0,0,0)" stroke="rgb(0,0,0)" stroke-width="14.7" stroke-linejoin="round" filter="url(#bl)"/>
<path d="M1131.3,1944.1 Q1154.3,1949.6 1177.3,1943.4 L1177.3,1946.1 Q1154.3,1952.2 1131.3,1946.7 Z" fill="rgb(0,0,0)" stroke="rgb(0,0,0)" stroke-width="13.9" stroke-linejoin="round" filter="url(#bl)"/>
<path d="M1196.6,1941.1 Q1221.7,1947.6 1246.7,1941.1 L1246.7,1943.8 Q1221.7,1950.3 1196.6,1943.8 Z" fill="rgb(0,0,0)" stroke="rgb(0,0,0)" stroke-width="13.9" stroke-linejoin="round" filter="url(#bl)"/>
<path d="M1268.9,1942.6 Q1292.5,1948.4 1316.1,1938.7 L1316.1,1941.3 Q1292.5,1951.1 1268.9,1945.2 Z" fill="rgb(20,20,20)" stroke="rgb(20,20,20)" stroke-width="13.9" stroke-linejoin="round" filter="url(#bl)"/>
</g>
<rect x="235" y="1921.7" width="1093.0" height="59.3" fill="none" stroke="#000" stroke-width="2"/>
<text x="213.4" y="1655.5" font-size="34.5" text-anchor="end" stroke="#000" stroke-width="0.55">pAKT1<tspan font-size="25.7" dy="-13">S473</tspan></text>
<text x="217.0" y="1725.4" font-size="34.5" text-anchor="end" font-weight="normal" font-style="normal" fill="#000"  stroke="#000" stroke-width="0.55">tAKT1</text>
<text x="213" y="1805" font-size="34.5" text-anchor="end" stroke="#000" stroke-width="0.55">pPRAS40<tspan font-size="25.7" dy="-13">T246</tspan></text>
<text x="213.4" y="1886.0" font-size="34.5" text-anchor="end" font-weight="normal" font-style="normal" fill="#000"  stroke="#000" stroke-width="0.55">tPRAS40</text>
<text x="214.8" y="1964.8" font-size="34.5" text-anchor="end" font-weight="normal" font-style="normal" fill="#000"  stroke="#000" stroke-width="0.55">GAPDH</text>
<text x="1340.0" y="1620.0" font-size="31" text-anchor="start" font-weight="normal" font-style="italic" fill="#000"  stroke="#000" stroke-width="0.55">kDa</text>
<line x1="1336.5" y1="1659.2" x2="1346.5" y2="1659.2" stroke="#000" stroke-width="1.6" stroke-linecap="butt" />
<text x="1356.0" y="1671.2" font-size="30" text-anchor="start" font-weight="normal" font-style="italic" fill="#000"  stroke="#000" stroke-width="0.55">50</text>
<line x1="1336.5" y1="1740.2" x2="1346.5" y2="1740.2" stroke="#000" stroke-width="1.6" stroke-linecap="butt" />
<text x="1356.0" y="1750.8" font-size="30" text-anchor="start" font-weight="normal" font-style="italic" fill="#000"  stroke="#000" stroke-width="0.55">50</text>
<line x1="1336.5" y1="1793.0" x2="1346.5" y2="1793.0" stroke="#000" stroke-width="1.6" stroke-linecap="butt" />
<text x="1356.0" y="1808.5" font-size="30" text-anchor="start" font-weight="normal" font-style="italic" fill="#000"  stroke="#000" stroke-width="0.55">37</text>
<line x1="1336.5" y1="1868.4" x2="1346.5" y2="1868.4" stroke="#000" stroke-width="1.6" stroke-linecap="butt" />
<text x="1356.0" y="1882.5" font-size="30" text-anchor="start" font-weight="normal" font-style="italic" fill="#000"  stroke="#000" stroke-width="0.55">37</text>
<line x1="1336.5" y1="1943.8" x2="1346.5" y2="1943.8" stroke="#000" stroke-width="1.6" stroke-linecap="butt" />
<text x="1356.0" y="1957.9" font-size="30" text-anchor="start" font-weight="normal" font-style="italic" fill="#000"  stroke="#000" stroke-width="0.55">37</text>
<line x1="1674.9" y1="1511.0" x2="1674.9" y2="1867.5" stroke="#000" stroke-width="3.6" stroke-linecap="butt" />
<line x1="1660.0" y1="1865.7" x2="2030.4" y2="1865.7" stroke="#000" stroke-width="3.6" stroke-linecap="butt" />
<line x1="1660.0" y1="1865.7" x2="1674.9" y2="1865.7" stroke="#000" stroke-width="3.3" stroke-linecap="butt" />
<text x="1654.0" y="1877.7" font-size="34.3" text-anchor="end" font-weight="normal" font-style="normal" fill="#000"  stroke="#000" stroke-width="0.55">0</text>
<line x1="1660.0" y1="1802.2" x2="1674.9" y2="1802.2" stroke="#000" stroke-width="3.3" stroke-linecap="butt" />
<text x="1654.0" y="1814.2" font-size="34.3" text-anchor="end" font-weight="normal" font-style="normal" fill="#000"  stroke="#000" stroke-width="0.55">25</text>
<line x1="1660.0" y1="1738.8" x2="1674.9" y2="1738.8" stroke="#000" stroke-width="3.3" stroke-linecap="butt" />
<text x="1654.0" y="1750.8" font-size="34.3" text-anchor="end" font-weight="normal" font-style="normal" fill="#000"  stroke="#000" stroke-width="0.55">50</text>
<line x1="1660.0" y1="1675.3" x2="1674.9" y2="1675.3" stroke="#000" stroke-width="3.3" stroke-linecap="butt" />
<text x="1654.0" y="1687.3" font-size="34.3" text-anchor="end" font-weight="normal" font-style="normal" fill="#000"  stroke="#000" stroke-width="0.55">75</text>
<line x1="1660.0" y1="1611.9" x2="1674.9" y2="1611.9" stroke="#000" stroke-width="3.3" stroke-linecap="butt" />
<text x="1654.0" y="1623.9" font-size="34.3" text-anchor="end" font-weight="normal" font-style="normal" fill="#000"  stroke="#000" stroke-width="0.55">100</text>
<line x1="1660.0" y1="1548.5" x2="1674.9" y2="1548.5" stroke="#000" stroke-width="3.3" stroke-linecap="butt" />
<text x="1654.0" y="1560.5" font-size="34.3" text-anchor="end" font-weight="normal" font-style="normal" fill="#000"  stroke="#000" stroke-width="0.55">125</text>
<line x1="1682.0" y1="1611.9" x2="2027.0" y2="1611.9" stroke="#000" stroke-width="3" stroke-linecap="round" stroke-dasharray="0.01 7.17"/>
<line x1="1729.1" y1="1865.7" x2="1729.1" y2="1880.4" stroke="#000" stroke-width="3.3" stroke-linecap="butt" />
<line x1="1811.5" y1="1865.7" x2="1811.5" y2="1880.4" stroke="#000" stroke-width="3.3" stroke-linecap="butt" />
<line x1="1893.1" y1="1865.7" x2="1893.1" y2="1880.4" stroke="#000" stroke-width="3.3" stroke-linecap="butt" />
<line x1="1975.5" y1="1865.7" x2="1975.5" y2="1880.4" stroke="#000" stroke-width="3.3" stroke-linecap="butt" />
<text x="1736.5" y="1916.8" font-size="33.9" text-anchor="middle" font-weight="normal" font-style="normal" fill="#000"  stroke="#000" stroke-width="0.55">vehicle</text>
<text x="1810.7" y="1916.8" font-size="33.9" text-anchor="middle" font-weight="normal" font-style="normal" fill="#000"  stroke="#000" stroke-width="0.55">2</text>
<text x="1891.2" y="1916.8" font-size="33.9" text-anchor="middle" font-weight="normal" font-style="normal" fill="#000"  stroke="#000" stroke-width="0.55">7</text>
<text x="1975.5" y="1916.8" font-size="33.9" text-anchor="middle" font-weight="normal" font-style="normal" fill="#000"  stroke="#000" stroke-width="0.55">24</text>
<text x="1896.2" y="1965.0" font-size="33.5" text-anchor="middle" font-weight="normal" font-style="normal" fill="#000"  stroke="#000" stroke-width="0.55">Time post dose (h)</text>
<text transform="translate(1538,1684.3) rotate(-90)" font-size="33.3" text-anchor="middle" stroke="#000" stroke-width="0.55">Normalised</text>
<text transform="translate(1580.3,1683.4) rotate(-90)" font-size="33.3" text-anchor="middle" stroke="#000" stroke-width="0.55">pAKT1 intensity (%)</text>
<line x1="1729.1" y1="1578.0" x2="1729.1" y2="1647.0" stroke="#000" stroke-width="2" stroke-linecap="butt" />
<line x1="1715.1" y1="1578.0" x2="1743.1" y2="1578.0" stroke="#000" stroke-width="2" stroke-linecap="butt" />
<line x1="1715.1" y1="1647.0" x2="1743.1" y2="1647.0" stroke="#000" stroke-width="2" stroke-linecap="butt" />
<line x1="1702.1" y1="1612.2" x2="1756.1" y2="1612.2" stroke="#000" stroke-width="3.9" stroke-linecap="butt" />
<circle cx="1729.1" cy="1579.1" r="7" fill="#000"/>
<circle cx="1729.1" cy="1595.8" r="7" fill="#000"/>
<circle cx="1729.1" cy="1618.8" r="7" fill="#000"/>
<circle cx="1729.1" cy="1659.7" r="7" fill="#000"/>
<line x1="1811.5" y1="1813.7" x2="1811.5" y2="1858.2" stroke="#000" stroke-width="2" stroke-linecap="butt" />
<line x1="1797.5" y1="1813.7" x2="1825.5" y2="1813.7" stroke="#000" stroke-width="2" stroke-linecap="butt" />
<line x1="1797.5" y1="1858.2" x2="1825.5" y2="1858.2" stroke="#000" stroke-width="2" stroke-linecap="butt" />
<line x1="1784.5" y1="1836.3" x2="1838.5" y2="1836.3" stroke="#000" stroke-width="3.9" stroke-linecap="butt" />
<circle cx="1811.5" cy="1809.2" r="7" fill="#000"/>
<circle cx="1811.5" cy="1827.8" r="7" fill="#000"/>
<circle cx="1791.0" cy="1855.6" r="7" fill="#000"/>
<circle cx="1831.1" cy="1851.9" r="7" fill="#000"/>
<line x1="1893.1" y1="1808.5" x2="1893.1" y2="1842.6" stroke="#000" stroke-width="2" stroke-linecap="butt" />
<line x1="1879.1" y1="1808.5" x2="1907.1" y2="1808.5" stroke="#000" stroke-width="2" stroke-linecap="butt" />
<line x1="1879.1" y1="1842.6" x2="1907.1" y2="1842.6" stroke="#000" stroke-width="2" stroke-linecap="butt" />
<line x1="1866.1" y1="1825.9" x2="1920.1" y2="1825.9" stroke="#000" stroke-width="3.9" stroke-linecap="butt" />
<circle cx="1894.2" cy="1800.7" r="7" fill="#000"/>
<circle cx="1893.1" cy="1827.8" r="7" fill="#000"/>
<circle cx="1872.7" cy="1838.9" r="7" fill="#000"/>
<circle cx="1913.5" cy="1836.3" r="7" fill="#000"/>
<line x1="1975.5" y1="1549.5" x2="1975.5" y2="1590.3" stroke="#000" stroke-width="2" stroke-linecap="butt" />
<line x1="1961.5" y1="1549.5" x2="1989.5" y2="1549.5" stroke="#000" stroke-width="2" stroke-linecap="butt" />
<line x1="1961.5" y1="1590.3" x2="1989.5" y2="1590.3" stroke="#000" stroke-width="2" stroke-linecap="butt" />
<line x1="1948.5" y1="1569.9" x2="2002.5" y2="1569.9" stroke="#000" stroke-width="3.9" stroke-linecap="butt" />
<circle cx="1955.4" cy="1555.0" r="7" fill="#000"/>
<circle cx="1996.3" cy="1552.1" r="7" fill="#000"/>
<circle cx="1975.5" cy="1579.1" r="7" fill="#000"/>
<circle cx="1975.5" cy="1595.1" r="7" fill="#000"/>
</svg>
</body></html>
